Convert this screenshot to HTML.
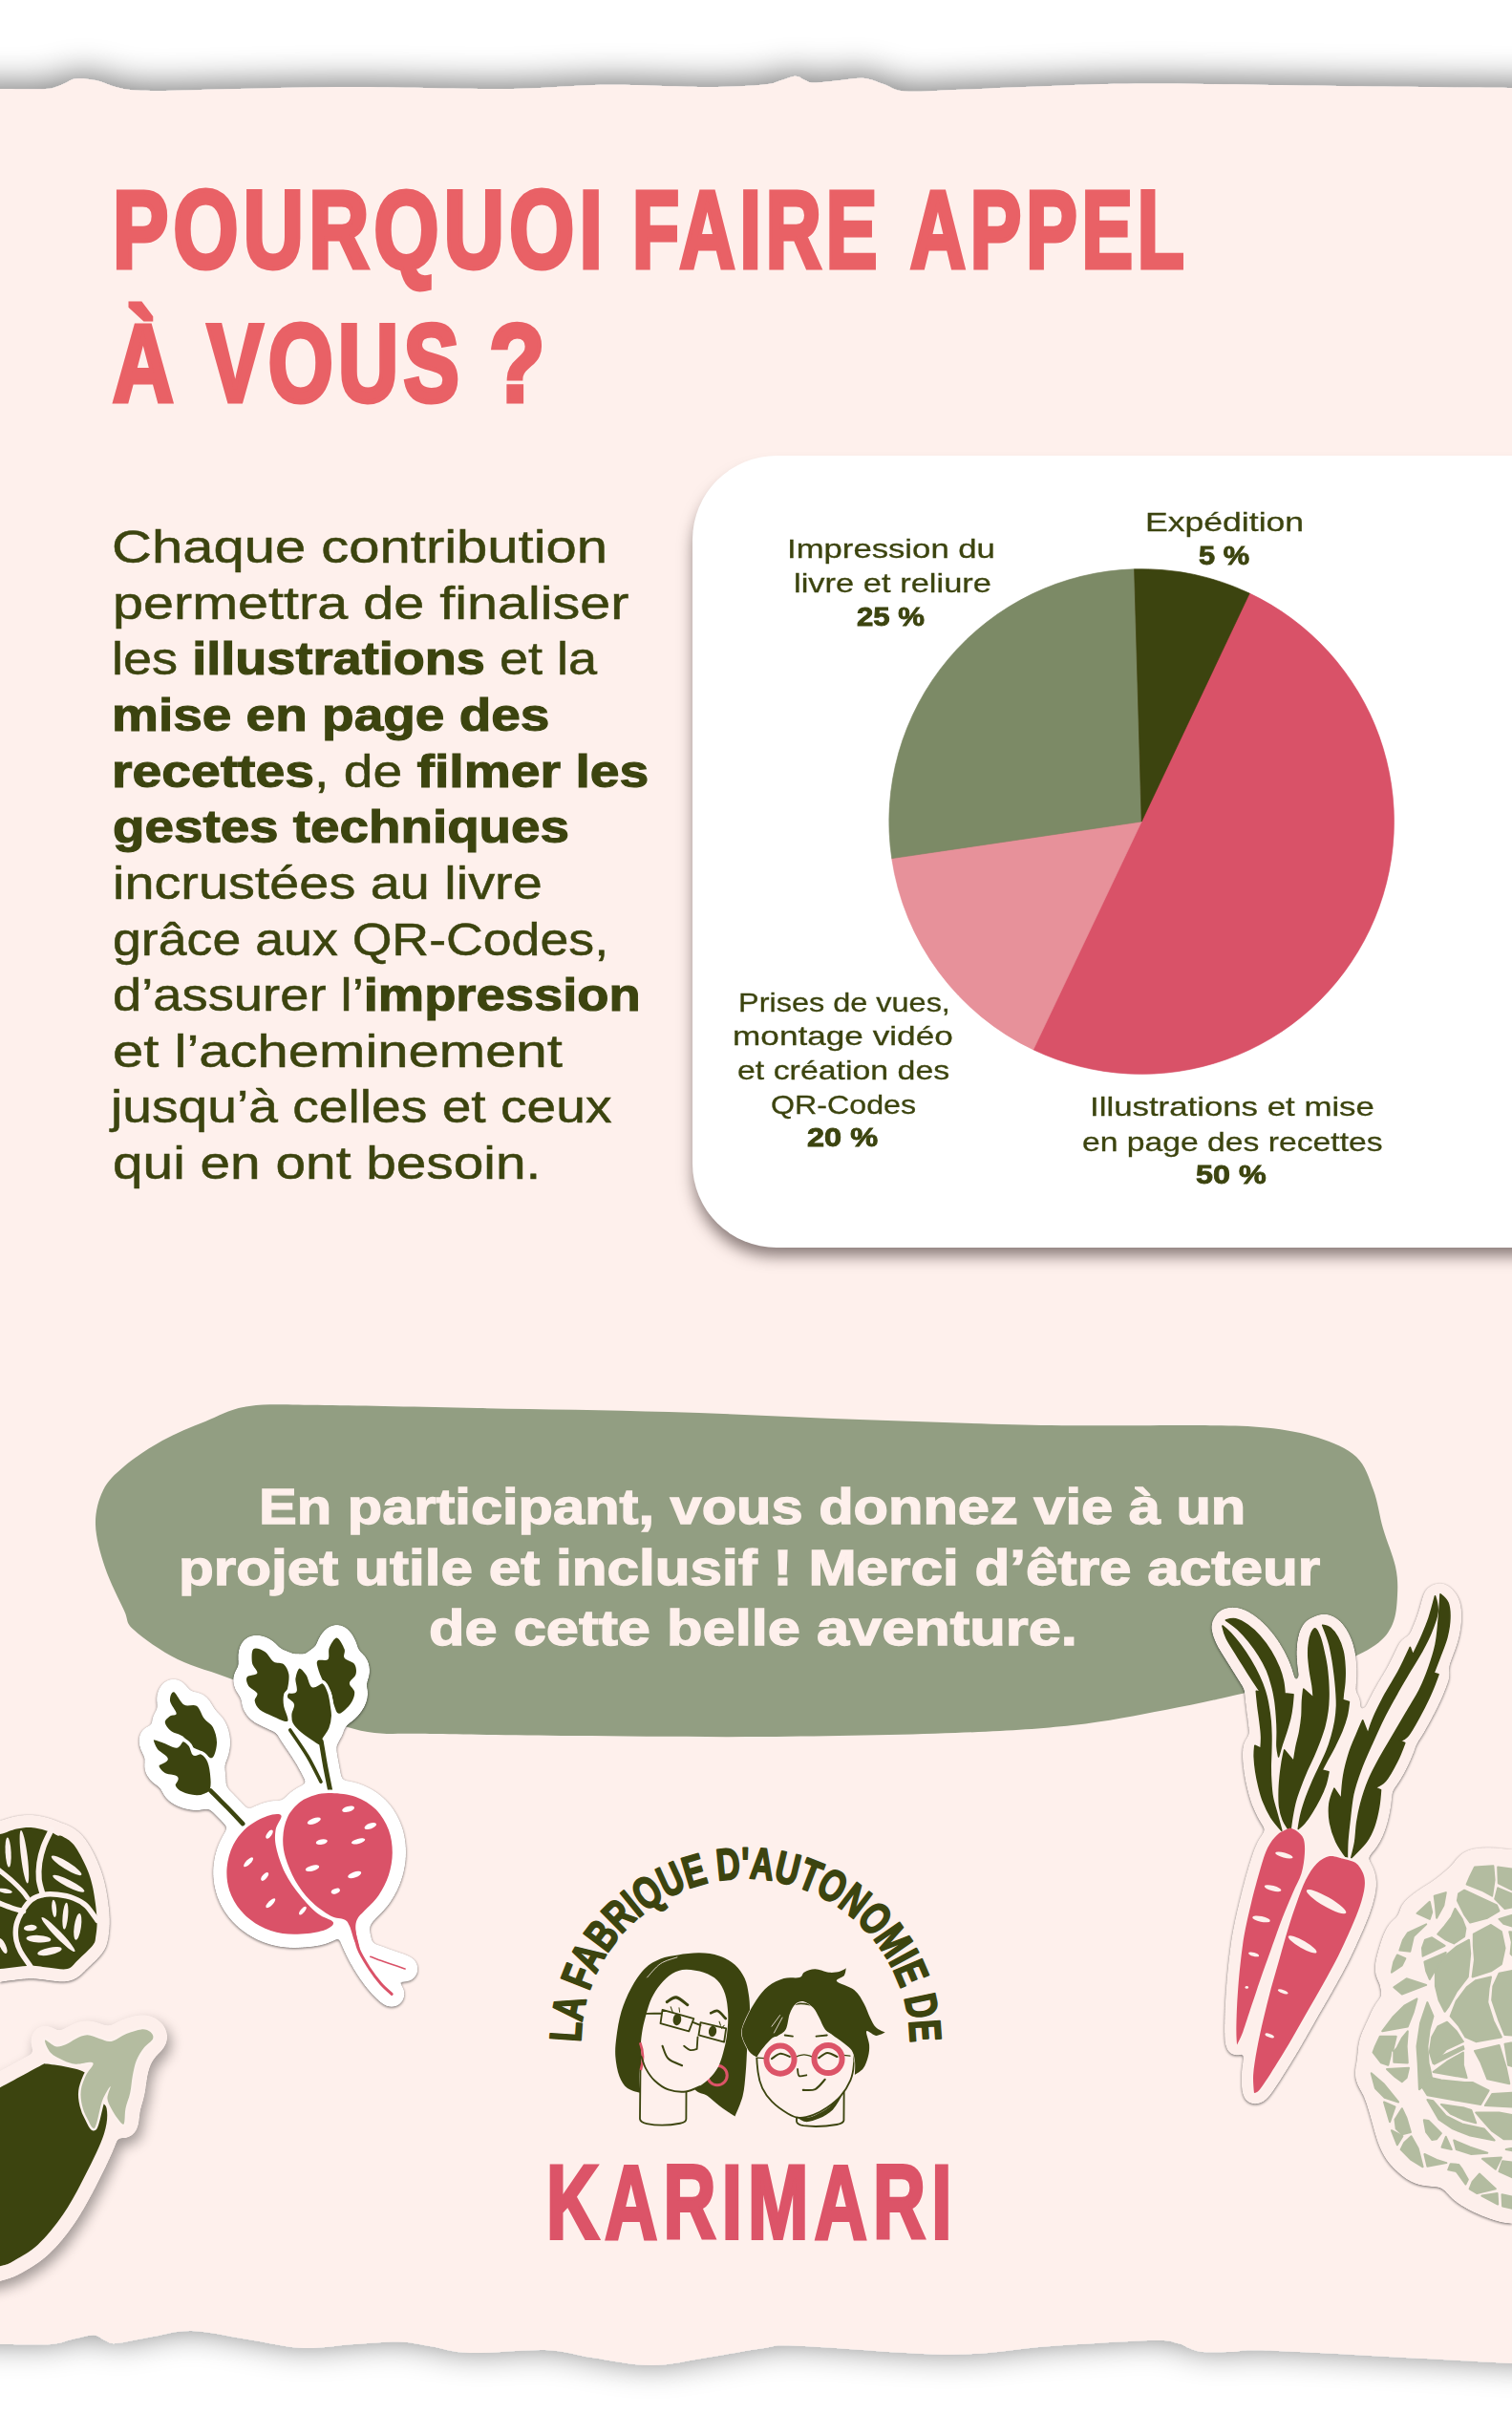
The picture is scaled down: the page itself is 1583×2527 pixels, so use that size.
<!DOCTYPE html>
<html lang="fr"><head><meta charset="utf-8"><title>Pourquoi faire appel à vous ?</title>
<style>
html,body{margin:0;padding:0;background:#fff;}
body{width:1583px;height:2527px;position:relative;overflow:hidden;font-family:'Liberation Sans', sans-serif;}
.layer{position:absolute;left:0;top:0;width:1583px;height:2527px;overflow:hidden;}
.t{position:absolute;margin:0;white-space:nowrap;transform-origin:0 0;line-height:1;}
.t b{font-weight:bold;-webkit-text-stroke:1.1px currentColor;}
.card{position:absolute;left:725px;top:477px;width:1100px;height:829px;background:#fff;border-radius:88px;box-shadow:-2px 12px 16px -3px rgba(45,30,30,.55);}
svg{position:absolute;left:0;top:0;overflow:visible;}
</style></head><body>
<div class="layer">
<svg width="1583" height="2527" viewBox="0 0 1583 2527">
<defs>
<filter id="psh" filterUnits="userSpaceOnUse" x="-60" y="0" width="1703" height="2527"><feGaussianBlur in="SourceAlpha" stdDeviation="18"/><feOffset dx="0" dy="-4"/><feComponentTransfer><feFuncA type="linear" slope=".55"/></feComponentTransfer><feMerge><feMergeNode/><feMergeNode in="SourceGraphic"/></feMerge></filter>

<filter id="stkW" filterUnits="userSpaceOnUse" x="0" y="1600" width="1583" height="927" color-interpolation-filters="sRGB"><feGaussianBlur in="SourceAlpha" stdDeviation="5"/><feComponentTransfer result="t"><feFuncA type="linear" slope="40" intercept="-3"/></feComponentTransfer><feFlood flood-color="#fff"/><feComposite in2="t" operator="in" result="w"/><feGaussianBlur in="t" stdDeviation="1.5"/><feOffset dx="0" dy="1"/><feComponentTransfer result="s"><feFuncA type="linear" slope=".55"/></feComponentTransfer><feMerge><feMergeNode in="s"/><feMergeNode in="w"/></feMerge></filter>
<filter id="stkP" filterUnits="userSpaceOnUse" x="0" y="1600" width="1583" height="927" color-interpolation-filters="sRGB"><feGaussianBlur in="SourceAlpha" stdDeviation="5"/><feComponentTransfer result="t"><feFuncA type="linear" slope="40" intercept="-3"/></feComponentTransfer><feFlood flood-color="#FDEFEB"/><feComposite in2="t" operator="in" result="w"/><feGaussianBlur in="t" stdDeviation="1.5"/><feOffset dx="0" dy="1"/><feComponentTransfer result="s"><feFuncA type="linear" slope=".55"/></feComponentTransfer><feMerge><feMergeNode in="s"/><feMergeNode in="w"/></feMerge></filter>
<filter id="stkS" filterUnits="userSpaceOnUse" x="-100" y="1600" width="1783" height="1027" color-interpolation-filters="sRGB"><feGaussianBlur in="SourceAlpha" stdDeviation="5"/><feComponentTransfer result="t"><feFuncA type="linear" slope="40" intercept="-3"/></feComponentTransfer><feFlood flood-color="#FDEFEB"/><feComposite in2="t" operator="in" result="w"/><feGaussianBlur in="t" stdDeviation="7"/><feOffset dx="4" dy="7"/><feComponentTransfer result="s"><feFuncA type="linear" slope=".36"/></feComponentTransfer><feMerge><feMergeNode in="s"/><feMergeNode in="w"/></feMerge></filter>

</defs>
<path d="M-40.0 93.0 C-33.3 93.0 -14.7 93.0 0.0 93.0 C14.7 93.0 37.0 93.8 48.0 93.0 C59.0 92.2 60.8 89.8 66.0 88.0 C71.2 86.2 73.3 83.2 79.0 82.5 C84.7 81.8 89.3 82.0 100.0 84.0 C110.7 86.0 118.0 93.0 143.0 94.5 C168.0 96.0 212.2 93.6 250.0 93.0 C287.8 92.4 323.5 91.0 370.0 91.0 C416.5 91.0 484.8 93.4 529.0 93.0 C573.2 92.6 599.7 89.0 635.0 88.7 C670.3 88.4 713.5 91.0 741.0 91.0 C768.5 91.0 787.2 89.7 800.0 88.5 C812.8 87.3 812.5 85.5 818.0 84.0 C823.5 82.5 828.8 79.7 833.0 79.7 C837.2 79.7 839.8 82.9 843.0 84.0 C846.2 85.1 845.8 86.5 852.0 86.5 C858.2 86.5 871.2 84.8 880.0 84.0 C888.8 83.2 897.5 81.3 905.0 82.0 C912.5 82.7 918.0 85.8 925.0 88.0 C932.0 90.2 934.5 94.5 947.0 95.5 C959.5 96.5 974.5 94.9 1000.0 94.0 C1025.5 93.1 1065.7 91.1 1100.0 90.0 C1134.3 88.9 1156.0 87.6 1206.0 87.6 C1256.0 87.6 1337.2 89.3 1400.0 90.0 C1462.8 90.7 1545.8 91.7 1583.0 92.0 C1620.2 92.3 1616.3 92.0 1623.0 92.0 L1623.0 2476.0 C1616.3 2475.7 1630.5 2476.5 1583.0 2474.0 C1535.5 2471.5 1386.8 2463.0 1338.0 2461.0 C1289.2 2459.0 1303.2 2461.8 1290.0 2462.0 C1276.8 2462.2 1266.5 2462.7 1259.0 2462.0 C1251.5 2461.3 1249.3 2459.5 1245.0 2458.0 C1240.7 2456.5 1239.5 2454.3 1233.0 2453.0 C1226.5 2451.7 1228.2 2449.5 1206.0 2450.0 C1183.8 2450.5 1135.2 2453.6 1100.0 2456.0 C1064.8 2458.4 1039.0 2464.8 995.0 2464.7 C951.0 2464.6 868.5 2456.8 836.0 2455.7 C803.5 2454.6 816.0 2455.9 800.0 2458.0 C784.0 2460.1 759.7 2465.0 740.0 2468.0 C720.3 2471.0 702.0 2476.0 682.0 2476.0 C662.0 2476.0 638.5 2470.7 620.0 2468.0 C601.5 2465.3 592.3 2460.8 571.0 2460.0 C549.7 2459.2 512.2 2463.7 492.0 2463.0 C471.8 2462.3 462.3 2457.9 450.0 2456.0 C437.7 2454.1 431.3 2451.8 418.0 2451.5 C404.7 2451.2 386.8 2452.9 370.0 2454.0 C353.2 2455.1 335.3 2458.8 317.0 2458.0 C298.7 2457.2 279.3 2452.0 260.0 2449.0 C240.7 2446.0 217.7 2440.5 201.0 2440.0 C184.3 2439.5 173.2 2443.8 160.0 2446.0 C146.8 2448.2 130.3 2452.3 122.0 2453.0 C113.7 2453.7 114.0 2451.4 110.0 2450.0 C106.0 2448.6 103.8 2444.7 98.0 2444.5 C92.2 2444.3 82.5 2447.4 75.0 2449.0 C67.5 2450.6 65.5 2453.2 53.0 2454.0 C40.5 2454.8 15.5 2454.0 0.0 2454.0 C-15.5 2454.0 -33.3 2454.0 -40.0 2454.0 Z" fill="#FEF0EC" filter="url(#psh)"/>
</svg>
<div class="card"></div>
<svg width="1583" height="2527" viewBox="0 0 1583 2527">
<circle cx="1195.2" cy="860.0" r="263.8" fill="#D95268"/>
<path d="M1195.2 860.0 L1308.2 621.1 A264.3 264.3 0 1 1 1081.8 1098.8 Z" fill="#D95268" stroke="#D95268" stroke-width="0.7" stroke-linejoin="round"/>
<path d="M1195.2 860.0 L1081.8 1098.8 A264.3 264.3 0 0 1 933.7 898.6 Z" fill="#E7919A" stroke="#E7919A" stroke-width="0.7" stroke-linejoin="round"/>
<path d="M1195.2 860.0 L933.7 898.6 A264.3 264.3 0 0 1 1187.6 595.8 Z" fill="#7C8A66" stroke="#7C8A66" stroke-width="0.7" stroke-linejoin="round"/>
<path d="M1195.2 860.0 L1187.6 595.8 A264.3 264.3 0 0 1 1308.2 621.1 Z" fill="#3C440F" stroke="#3C440F" stroke-width="0.7" stroke-linejoin="round"/>

<path d="M100.0 1596.0 C99.7 1582.5 103.0 1570.2 108.0 1560.0 C113.0 1549.8 119.7 1543.7 130.0 1535.0 C140.3 1526.3 155.8 1515.8 170.0 1508.0 C184.2 1500.2 199.8 1494.0 215.0 1488.0 C230.2 1482.0 240.2 1474.8 261.0 1472.0 C281.8 1469.2 300.2 1470.7 340.0 1471.0 C379.8 1471.3 440.0 1472.8 500.0 1474.0 C560.0 1475.2 633.3 1476.0 700.0 1478.0 C766.7 1480.0 833.3 1483.7 900.0 1486.0 C966.7 1488.3 1041.7 1491.0 1100.0 1492.0 C1158.3 1493.0 1212.5 1491.6 1250.0 1492.0 C1287.5 1492.4 1303.3 1492.3 1325.0 1494.5 C1346.7 1496.7 1364.2 1499.9 1380.0 1505.0 C1395.8 1510.1 1410.3 1515.8 1420.0 1525.0 C1429.7 1534.2 1433.3 1547.5 1438.0 1560.0 C1442.7 1572.5 1444.2 1586.7 1448.0 1600.0 C1451.8 1613.3 1458.5 1628.3 1461.0 1640.0 C1463.5 1651.7 1463.5 1660.0 1463.0 1670.0 C1462.5 1680.0 1461.8 1691.3 1458.0 1700.0 C1454.2 1708.7 1449.7 1715.0 1440.0 1722.0 C1430.3 1729.0 1415.0 1735.7 1400.0 1742.0 C1385.0 1748.3 1366.7 1754.8 1350.0 1760.0 C1333.3 1765.2 1321.7 1768.0 1300.0 1773.0 C1278.3 1778.0 1249.5 1784.5 1220.0 1790.0 C1190.5 1795.5 1159.7 1802.0 1123.0 1806.0 C1086.3 1810.0 1053.8 1812.0 1000.0 1814.0 C946.2 1816.0 866.7 1817.5 800.0 1818.0 C733.3 1818.5 658.3 1817.5 600.0 1817.0 C541.7 1816.5 485.8 1815.7 450.0 1815.0 C414.2 1814.3 405.0 1816.3 385.0 1813.0 C365.0 1809.7 353.2 1804.0 330.0 1795.0 C306.8 1786.0 270.0 1768.7 246.0 1759.0 C222.0 1749.3 203.7 1745.8 186.0 1737.0 C168.3 1728.2 149.3 1714.5 140.0 1706.0 C130.7 1697.5 135.0 1696.8 130.0 1686.0 C125.0 1675.2 115.0 1656.0 110.0 1641.0 C105.0 1626.0 100.3 1609.5 100.0 1596.0Z" fill="#929E82"/>
<g filter="url(#stkW)"><g fill="#fff" stroke="#fff" stroke-width="16" stroke-linejoin="round" stroke-linecap="round"><path d="M347.4 1877.1 C354.4 1877.4 364.8 1878.2 372.5 1881.1 C380.2 1883.9 387.9 1888.6 393.7 1894.3 C399.4 1900.0 404.0 1908.0 406.9 1915.4 C409.7 1922.9 410.8 1931.3 410.8 1939.3 C410.8 1947.2 409.3 1955.6 406.9 1963.1 C404.5 1970.6 400.5 1978.1 396.3 1984.2 C392.1 1990.4 385.5 1995.9 381.7 2000.1 C378.0 2004.3 375.4 2005.8 373.8 2009.4 C372.3 2012.9 372.0 2016.2 372.5 2021.3 C372.9 2026.3 376.7 2038.0 376.5 2039.8 C376.2 2041.6 372.9 2035.8 371.2 2031.9 C369.4 2027.9 367.6 2019.7 365.9 2016.0 C364.1 2012.2 363.9 2011.1 360.6 2009.4 C357.3 2007.6 352.0 2008.7 346.0 2005.4 C340.1 2002.1 331.0 1995.7 324.9 1989.5 C318.7 1983.4 313.3 1975.9 309.0 1968.4 C304.7 1960.9 301.1 1952.0 298.9 1944.6 C296.8 1937.1 295.9 1930.4 296.3 1923.4 C296.6 1916.3 298.1 1908.4 301.1 1902.2 C304.1 1896.0 309.4 1890.2 314.3 1886.3 C319.1 1882.5 324.6 1880.5 330.2 1878.9 C335.7 1877.4 340.3 1876.7 347.4 1877.1Z"/><path d="M294.4 1900.4 C293.0 1897.9 285.8 1898.8 279.9 1900.9 C273.9 1903.0 264.7 1907.7 258.7 1912.8 C252.8 1917.9 247.7 1924.3 244.2 1931.3 C240.7 1938.4 238.2 1947.2 237.6 1955.1 C236.9 1963.1 237.8 1971.4 240.2 1978.9 C242.6 1986.4 246.8 1993.9 252.1 2000.1 C257.4 2006.3 264.7 2012.0 272.0 2016.0 C279.2 2019.9 287.4 2022.6 295.8 2023.9 C304.1 2025.2 314.5 2024.7 322.2 2023.9 C329.9 2023.2 337.7 2021.4 342.1 2019.4 C346.5 2017.4 350.2 2014.7 348.7 2012.0 C347.1 2009.3 338.5 2007.9 332.8 2003.3 C327.1 1998.7 320.0 1991.4 314.3 1984.2 C308.6 1977.1 302.6 1968.8 298.4 1960.4 C294.2 1952.0 290.8 1941.5 289.2 1934.0 C287.5 1926.5 287.7 1921.0 288.6 1915.4 C289.5 1909.9 295.9 1902.8 294.4 1900.4Z"/><path d="M182.0 1771.3 C184.4 1771.9 188.6 1782.1 192.6 1784.5 C196.6 1786.9 202.3 1783.4 205.8 1785.8 C209.3 1788.2 210.9 1795.3 213.8 1799.0 C216.6 1802.8 220.8 1804.1 223.0 1808.3 C225.2 1812.5 227.1 1818.9 227.0 1824.2 C226.9 1829.5 224.9 1838.5 222.2 1840.1 C219.6 1841.6 214.7 1835.4 211.1 1833.4 C207.5 1831.5 203.8 1830.8 200.5 1828.1 C197.2 1825.5 194.8 1820.2 191.3 1817.6 C187.7 1814.9 182.5 1814.7 179.4 1812.3 C176.3 1809.9 173.0 1805.7 172.8 1803.0 C172.5 1800.4 176.1 1797.9 178.0 1796.4 C180.0 1794.9 184.7 1796.4 184.7 1793.8 C184.7 1791.1 178.5 1784.3 178.0 1780.5 C177.6 1776.8 179.6 1770.6 182.0 1771.3Z"/><path d="M159.5 1820.2 C160.8 1818.7 167.2 1821.5 171.4 1822.9 C175.6 1824.2 181.3 1828.4 184.7 1828.1 C188.0 1827.9 188.8 1821.8 191.3 1821.5 C193.7 1821.3 197.2 1824.4 199.2 1826.8 C201.2 1829.3 201.2 1834.8 203.2 1836.1 C205.2 1837.4 208.5 1833.4 211.1 1834.8 C213.8 1836.1 217.2 1839.4 219.0 1844.0 C220.9 1848.7 221.9 1857.5 222.2 1862.5 C222.6 1867.6 222.1 1871.8 221.2 1874.4 C220.2 1877.1 219.0 1877.3 216.4 1878.4 C213.8 1879.5 210.2 1881.3 205.8 1881.1 C201.4 1880.8 193.9 1879.1 189.9 1877.1 C186.0 1875.1 182.9 1871.8 182.0 1869.2 C181.1 1866.5 186.4 1863.2 184.7 1861.2 C182.9 1859.2 174.7 1859.5 171.4 1857.2 C168.1 1855.0 164.4 1850.6 164.8 1848.0 C165.3 1845.3 174.3 1844.0 174.1 1841.4 C173.9 1838.7 165.9 1835.6 163.5 1832.1 C161.1 1828.6 158.2 1821.8 159.5 1820.2Z"/><path d="M265.3 1726.3 C267.5 1724.3 273.7 1726.7 277.2 1728.9 C280.8 1731.1 283.2 1737.3 286.5 1739.5 C289.8 1741.7 294.4 1740.0 297.1 1742.2 C299.7 1744.4 301.7 1748.6 302.4 1752.8 C303.0 1756.9 301.9 1763.8 301.1 1767.3 C300.2 1770.8 297.8 1770.8 297.1 1773.9 C296.4 1777.0 296.4 1781.2 297.1 1785.8 C297.8 1790.4 303.0 1799.9 301.1 1801.7 C299.1 1803.5 290.0 1798.4 285.2 1796.4 C280.3 1794.4 275.0 1792.4 272.0 1789.8 C268.9 1787.1 267.1 1783.4 266.7 1780.5 C266.2 1777.7 270.4 1775.2 269.3 1772.6 C268.2 1769.9 261.8 1767.5 260.1 1764.7 C258.3 1761.8 257.2 1757.6 258.7 1755.4 C260.3 1753.2 268.4 1753.9 269.3 1751.4 C270.2 1749.0 264.7 1745.0 264.0 1740.8 C263.4 1736.7 263.1 1728.3 265.3 1726.3Z"/><path d="M352.6 1714.4 C355.3 1714.6 359.3 1722.8 360.6 1726.3 C361.9 1729.8 358.8 1732.9 360.6 1735.6 C362.3 1738.2 369.2 1739.3 371.2 1742.2 C373.1 1745.0 373.4 1749.4 372.5 1752.8 C371.6 1756.1 366.1 1758.9 365.9 1762.0 C365.7 1765.1 370.9 1767.7 371.2 1771.3 C371.4 1774.8 369.8 1779.4 367.2 1783.2 C364.6 1786.9 358.2 1793.3 355.3 1793.8 C352.4 1794.2 351.5 1789.8 350.0 1785.8 C348.5 1781.9 348.0 1774.4 346.0 1769.9 C344.0 1765.5 340.3 1763.3 338.1 1759.4 C335.9 1755.4 333.7 1749.7 332.8 1746.1 C331.9 1742.6 331.0 1739.7 332.8 1738.2 C334.6 1736.7 341.4 1739.1 343.4 1736.9 C345.4 1734.7 343.2 1728.7 344.7 1725.0 C346.3 1721.2 350.0 1714.2 352.6 1714.4Z"/><path d="M313.0 1744.8 C315.4 1744.2 319.8 1749.4 322.2 1752.8 C324.6 1756.1 324.9 1763.3 327.5 1764.7 C330.2 1766.0 335.2 1759.6 338.1 1760.7 C341.0 1761.8 343.2 1767.3 344.7 1771.3 C346.3 1775.2 346.7 1780.3 347.4 1784.5 C348.0 1788.7 348.9 1792.2 348.7 1796.4 C348.5 1800.6 347.6 1805.7 346.0 1809.6 C344.5 1813.6 341.2 1817.1 339.4 1820.2 C337.7 1823.3 337.4 1827.5 335.4 1828.1 C333.5 1828.8 331.0 1826.4 327.5 1824.2 C324.0 1822.0 318.0 1818.2 314.3 1814.9 C310.5 1811.6 306.8 1807.9 305.0 1804.3 C303.3 1800.8 303.5 1797.1 303.7 1793.8 C303.9 1790.4 307.0 1787.1 306.3 1784.5 C305.7 1781.9 300.6 1780.1 299.7 1777.9 C298.9 1775.7 299.5 1772.6 301.1 1771.3 C302.6 1769.9 307.9 1772.4 309.0 1769.9 C310.1 1767.5 307.0 1760.9 307.7 1756.7 C308.3 1752.5 310.5 1745.5 313.0 1744.8Z"/><path d="M220.4 1874.4 C223.2 1877.3 231.9 1885.9 237.6 1891.6 C243.2 1897.4 251.5 1906.2 254.2 1909.1" fill="none"/><path d="M336.2 1822.9 C337.0 1827.3 339.1 1840.5 340.7 1849.3 C342.4 1858.1 345.1 1871.4 346.0 1875.8" fill="none"/><path d="M303.7 1811.0 C306.8 1815.6 316.8 1829.7 322.2 1838.7 C327.6 1847.8 333.7 1860.8 336.0 1865.2" fill="none"/><path d="M369.8 2016.0 C370.7 2019.9 372.3 2032.3 375.1 2039.8 C378.0 2047.3 383.1 2054.8 387.0 2061.0 C391.0 2067.1 395.1 2072.4 398.9 2076.8 C402.8 2081.2 408.2 2085.6 410.1 2087.4" fill="none"/><path d="M387.8 2048.3 C390.6 2049.3 398.2 2052.2 404.2 2054.3 C410.3 2056.5 420.8 2059.9 424.1 2061.0" fill="none"/></g></g>
<path d="M182.0 1771.3 C184.4 1771.9 188.6 1782.1 192.6 1784.5 C196.6 1786.9 202.3 1783.4 205.8 1785.8 C209.3 1788.2 210.9 1795.3 213.8 1799.0 C216.6 1802.8 220.8 1804.1 223.0 1808.3 C225.2 1812.5 227.1 1818.9 227.0 1824.2 C226.9 1829.5 224.9 1838.5 222.2 1840.1 C219.6 1841.6 214.7 1835.4 211.1 1833.4 C207.5 1831.5 203.8 1830.8 200.5 1828.1 C197.2 1825.5 194.8 1820.2 191.3 1817.6 C187.7 1814.9 182.5 1814.7 179.4 1812.3 C176.3 1809.9 173.0 1805.7 172.8 1803.0 C172.5 1800.4 176.1 1797.9 178.0 1796.4 C180.0 1794.9 184.7 1796.4 184.7 1793.8 C184.7 1791.1 178.5 1784.3 178.0 1780.5 C177.6 1776.8 179.6 1770.6 182.0 1771.3Z" fill="#3C440F" />
<path d="M159.5 1820.2 C160.8 1818.7 167.2 1821.5 171.4 1822.9 C175.6 1824.2 181.3 1828.4 184.7 1828.1 C188.0 1827.9 188.8 1821.8 191.3 1821.5 C193.7 1821.3 197.2 1824.4 199.2 1826.8 C201.2 1829.3 201.2 1834.8 203.2 1836.1 C205.2 1837.4 208.5 1833.4 211.1 1834.8 C213.8 1836.1 217.2 1839.4 219.0 1844.0 C220.9 1848.7 221.9 1857.5 222.2 1862.5 C222.6 1867.6 222.1 1871.8 221.2 1874.4 C220.2 1877.1 219.0 1877.3 216.4 1878.4 C213.8 1879.5 210.2 1881.3 205.8 1881.1 C201.4 1880.8 193.9 1879.1 189.9 1877.1 C186.0 1875.1 182.9 1871.8 182.0 1869.2 C181.1 1866.5 186.4 1863.2 184.7 1861.2 C182.9 1859.2 174.7 1859.5 171.4 1857.2 C168.1 1855.0 164.4 1850.6 164.8 1848.0 C165.3 1845.3 174.3 1844.0 174.1 1841.4 C173.9 1838.7 165.9 1835.6 163.5 1832.1 C161.1 1828.6 158.2 1821.8 159.5 1820.2Z" fill="#3C440F" stroke="#fff" stroke-width="3.5"/>
<path d="M220.4 1874.4 C223.2 1877.3 231.9 1885.9 237.6 1891.6 C243.2 1897.4 251.5 1906.2 254.2 1909.1" fill="none" stroke="#3C440F" stroke-width="4.6" stroke-linecap="round" />
<path d="M265.3 1726.3 C267.5 1724.3 273.7 1726.7 277.2 1728.9 C280.8 1731.1 283.2 1737.3 286.5 1739.5 C289.8 1741.7 294.4 1740.0 297.1 1742.2 C299.7 1744.4 301.7 1748.6 302.4 1752.8 C303.0 1756.9 301.9 1763.8 301.1 1767.3 C300.2 1770.8 297.8 1770.8 297.1 1773.9 C296.4 1777.0 296.4 1781.2 297.1 1785.8 C297.8 1790.4 303.0 1799.9 301.1 1801.7 C299.1 1803.5 290.0 1798.4 285.2 1796.4 C280.3 1794.4 275.0 1792.4 272.0 1789.8 C268.9 1787.1 267.1 1783.4 266.7 1780.5 C266.2 1777.7 270.4 1775.2 269.3 1772.6 C268.2 1769.9 261.8 1767.5 260.1 1764.7 C258.3 1761.8 257.2 1757.6 258.7 1755.4 C260.3 1753.2 268.4 1753.9 269.3 1751.4 C270.2 1749.0 264.7 1745.0 264.0 1740.8 C263.4 1736.7 263.1 1728.3 265.3 1726.3Z" fill="#3C440F" />
<path d="M352.6 1714.4 C355.3 1714.6 359.3 1722.8 360.6 1726.3 C361.9 1729.8 358.8 1732.9 360.6 1735.6 C362.3 1738.2 369.2 1739.3 371.2 1742.2 C373.1 1745.0 373.4 1749.4 372.5 1752.8 C371.6 1756.1 366.1 1758.9 365.9 1762.0 C365.7 1765.1 370.9 1767.7 371.2 1771.3 C371.4 1774.8 369.8 1779.4 367.2 1783.2 C364.6 1786.9 358.2 1793.3 355.3 1793.8 C352.4 1794.2 351.5 1789.8 350.0 1785.8 C348.5 1781.9 348.0 1774.4 346.0 1769.9 C344.0 1765.5 340.3 1763.3 338.1 1759.4 C335.9 1755.4 333.7 1749.7 332.8 1746.1 C331.9 1742.6 331.0 1739.7 332.8 1738.2 C334.6 1736.7 341.4 1739.1 343.4 1736.9 C345.4 1734.7 343.2 1728.7 344.7 1725.0 C346.3 1721.2 350.0 1714.2 352.6 1714.4Z" fill="#3C440F" />
<path d="M303.7 1811.0 C306.8 1815.6 316.8 1829.7 322.2 1838.7 C327.6 1847.8 333.7 1860.8 336.0 1865.2" fill="none" stroke="#3C440F" stroke-width="3.6" stroke-linecap="round" />
<path d="M313.0 1744.8 C315.4 1744.2 319.8 1749.4 322.2 1752.8 C324.6 1756.1 324.9 1763.3 327.5 1764.7 C330.2 1766.0 335.2 1759.6 338.1 1760.7 C341.0 1761.8 343.2 1767.3 344.7 1771.3 C346.3 1775.2 346.7 1780.3 347.4 1784.5 C348.0 1788.7 348.9 1792.2 348.7 1796.4 C348.5 1800.6 347.6 1805.7 346.0 1809.6 C344.5 1813.6 341.2 1817.1 339.4 1820.2 C337.7 1823.3 337.4 1827.5 335.4 1828.1 C333.5 1828.8 331.0 1826.4 327.5 1824.2 C324.0 1822.0 318.0 1818.2 314.3 1814.9 C310.5 1811.6 306.8 1807.9 305.0 1804.3 C303.3 1800.8 303.5 1797.1 303.7 1793.8 C303.9 1790.4 307.0 1787.1 306.3 1784.5 C305.7 1781.9 300.6 1780.1 299.7 1777.9 C298.9 1775.7 299.5 1772.6 301.1 1771.3 C302.6 1769.9 307.9 1772.4 309.0 1769.9 C310.1 1767.5 307.0 1760.9 307.7 1756.7 C308.3 1752.5 310.5 1745.5 313.0 1744.8Z" fill="#3C440F" stroke="#fff" stroke-width="3.5"/>
<path d="M336.2 1822.9 C337.0 1827.3 339.1 1840.5 340.7 1849.3 C342.4 1858.1 345.1 1871.4 346.0 1875.8" fill="none" stroke="#3C440F" stroke-width="5.0" stroke-linecap="round" />
<path d="M294.4 1900.4 C293.0 1897.9 285.8 1898.8 279.9 1900.9 C273.9 1903.0 264.7 1907.7 258.7 1912.8 C252.8 1917.9 247.7 1924.3 244.2 1931.3 C240.7 1938.4 238.2 1947.2 237.6 1955.1 C236.9 1963.1 237.8 1971.4 240.2 1978.9 C242.6 1986.4 246.8 1993.9 252.1 2000.1 C257.4 2006.3 264.7 2012.0 272.0 2016.0 C279.2 2019.9 287.4 2022.6 295.8 2023.9 C304.1 2025.2 314.5 2024.7 322.2 2023.9 C329.9 2023.2 337.7 2021.4 342.1 2019.4 C346.5 2017.4 350.2 2014.7 348.7 2012.0 C347.1 2009.3 338.5 2007.9 332.8 2003.3 C327.1 1998.7 320.0 1991.4 314.3 1984.2 C308.6 1977.1 302.6 1968.8 298.4 1960.4 C294.2 1952.0 290.8 1941.5 289.2 1934.0 C287.5 1926.5 287.7 1921.0 288.6 1915.4 C289.5 1909.9 295.9 1902.8 294.4 1900.4Z" fill="#DA5268" />
<path d="M347.4 1877.1 C354.4 1877.4 364.8 1878.2 372.5 1881.1 C380.2 1883.9 387.9 1888.6 393.7 1894.3 C399.4 1900.0 404.0 1908.0 406.9 1915.4 C409.7 1922.9 410.8 1931.3 410.8 1939.3 C410.8 1947.2 409.3 1955.6 406.9 1963.1 C404.5 1970.6 400.5 1978.1 396.3 1984.2 C392.1 1990.4 385.5 1995.9 381.7 2000.1 C378.0 2004.3 375.4 2005.8 373.8 2009.4 C372.3 2012.9 372.0 2016.2 372.5 2021.3 C372.9 2026.3 376.7 2038.0 376.5 2039.8 C376.2 2041.6 372.9 2035.8 371.2 2031.9 C369.4 2027.9 367.6 2019.7 365.9 2016.0 C364.1 2012.2 363.9 2011.1 360.6 2009.4 C357.3 2007.6 352.0 2008.7 346.0 2005.4 C340.1 2002.1 331.0 1995.7 324.9 1989.5 C318.7 1983.4 313.3 1975.9 309.0 1968.4 C304.7 1960.9 301.1 1952.0 298.9 1944.6 C296.8 1937.1 295.9 1930.4 296.3 1923.4 C296.6 1916.3 298.1 1908.4 301.1 1902.2 C304.1 1896.0 309.4 1890.2 314.3 1886.3 C319.1 1882.5 324.6 1880.5 330.2 1878.9 C335.7 1877.4 340.3 1876.7 347.4 1877.1Z" fill="#DA5268" stroke="#fff" stroke-width="7" paint-order="stroke"/>
<path d="M369.8 2016.0 C370.7 2019.9 372.3 2032.3 375.1 2039.8 C378.0 2047.3 383.1 2054.8 387.0 2061.0 C391.0 2067.1 395.1 2072.4 398.9 2076.8 C402.8 2081.2 408.2 2085.6 410.1 2087.4" fill="none" stroke="#DA5268" stroke-width="3.0" stroke-linecap="round" />
<path d="M387.8 2048.3 C390.6 2049.3 398.2 2052.2 404.2 2054.3 C410.3 2056.5 420.8 2059.9 424.1 2061.0" fill="none" stroke="#DA5268" stroke-width="1.6" stroke-linecap="round" />
<ellipse cx="364.6" cy="1893.8" rx="6.6" ry="2.9" transform="rotate(-15 364.6 1893.8)" fill="#fff"/>
<ellipse cx="328.8" cy="1906.2" rx="7.4" ry="2.9" transform="rotate(-20 328.8 1906.2)" fill="#fff"/>
<ellipse cx="387.8" cy="1911.5" rx="6.6" ry="2.9" transform="rotate(-20 387.8 1911.5)" fill="#fff"/>
<ellipse cx="336.8" cy="1928.1" rx="6.1" ry="2.6" transform="rotate(-10 336.8 1928.1)" fill="#fff"/>
<ellipse cx="375.1" cy="1927.4" rx="7.4" ry="2.6" transform="rotate(-15 375.1 1927.4)" fill="#fff"/>
<ellipse cx="327.0" cy="1955.7" rx="7.4" ry="2.9" transform="rotate(-15 327.0 1955.7)" fill="#fff"/>
<ellipse cx="371.2" cy="1962.5" rx="7.4" ry="2.9" transform="rotate(-20 371.2 1962.5)" fill="#fff"/>
<ellipse cx="351.3" cy="1979.7" rx="4.8" ry="2.6" transform="rotate(-20 351.3 1979.7)" fill="#fff"/>
<ellipse cx="282.0" cy="1920.2" rx="5.3" ry="2.4" transform="rotate(-55 282.0 1920.2)" fill="#fff"/>
<ellipse cx="260.1" cy="1949.3" rx="6.6" ry="2.4" transform="rotate(-45 260.1 1949.3)" fill="#fff"/>
<ellipse cx="277.2" cy="1964.4" rx="5.3" ry="2.4" transform="rotate(-50 277.2 1964.4)" fill="#fff"/>
<ellipse cx="283.3" cy="1992.2" rx="6.6" ry="2.4" transform="rotate(-45 283.3 1992.2)" fill="#fff"/>
<ellipse cx="316.9" cy="2000.1" rx="5.3" ry="2.1" transform="rotate(-50 316.9 2000.1)" fill="#fff"/>
<g filter="url(#stkP)"><path d="M-25.8 1924.4 C-20.1 1912.2 -7.2 1921.7 0.0 1920.1 C7.2 1918.4 11.5 1915.7 17.2 1914.5 C22.9 1913.4 28.5 1912.7 34.4 1913.2 C40.3 1913.7 48.2 1916.2 52.5 1917.5 C56.7 1918.9 58.0 1920.6 60.2 1921.4 C62.3 1922.2 62.5 1920.6 65.3 1922.2 C68.2 1923.9 73.2 1925.9 77.4 1931.3 C81.5 1936.6 87.0 1947.0 90.3 1954.5 C93.6 1961.9 95.3 1967.1 97.2 1976.0 C99.0 1984.9 101.0 1999.2 101.5 2007.8 C102.0 2016.4 100.9 2022.8 100.2 2027.6 C99.5 2032.3 100.2 2032.2 97.2 2036.2 C94.1 2040.2 86.1 2047.5 81.7 2051.7 C77.2 2055.8 75.5 2059.7 70.5 2061.1 C65.5 2062.5 58.2 2060.4 51.6 2059.8 C45.0 2059.2 39.6 2057.5 31.0 2057.7 C22.4 2057.9 9.5 2060.4 0.0 2061.1 C-9.5 2061.8 -20.1 2073.3 -25.8 2062.0 C-31.5 2050.6 -34.4 2016.1 -34.4 1993.2 C-34.4 1970.3 -31.5 1936.6 -25.8 1924.4Z" fill="#FDF1ED" stroke="#FDF1ED" stroke-width="14" stroke-linejoin="round"/></g>
<path d="M-25.8 1924.4 C-20.1 1912.2 -7.2 1921.7 0.0 1920.1 C7.2 1918.4 11.5 1915.7 17.2 1914.5 C22.9 1913.4 28.5 1912.7 34.4 1913.2 C40.3 1913.7 48.2 1916.2 52.5 1917.5 C56.7 1918.9 58.0 1920.6 60.2 1921.4 C62.3 1922.2 62.5 1920.6 65.3 1922.2 C68.2 1923.9 73.2 1925.9 77.4 1931.3 C81.5 1936.6 87.0 1947.0 90.3 1954.5 C93.6 1961.9 95.3 1967.1 97.2 1976.0 C99.0 1984.9 101.0 1999.2 101.5 2007.8 C102.0 2016.4 100.9 2022.8 100.2 2027.6 C99.5 2032.3 100.2 2032.2 97.2 2036.2 C94.1 2040.2 86.1 2047.5 81.7 2051.7 C77.2 2055.8 75.5 2059.7 70.5 2061.1 C65.5 2062.5 58.2 2060.4 51.6 2059.8 C45.0 2059.2 39.6 2057.5 31.0 2057.7 C22.4 2057.9 9.5 2060.4 0.0 2061.1 C-9.5 2061.8 -20.1 2073.3 -25.8 2062.0 C-31.5 2050.6 -34.4 2016.1 -34.4 1993.2 C-34.4 1970.3 -31.5 1936.6 -25.8 1924.4Z" fill="#3C440F" />
<path d="M54.0 1914.9 C52.6 1917.9 47.7 1927.1 45.6 1933.0 C43.5 1938.9 42.1 1944.5 41.3 1950.2 C40.5 1955.9 40.3 1961.9 40.8 1967.4 C41.4 1972.9 44.1 1980.6 44.7 1983.3" fill="none" stroke="#FDF1ED" stroke-width="6.0" stroke-linecap="round" />
<path d="M101.9 2010.4 C100.0 2007.8 94.4 1998.8 90.3 1994.9 C86.2 1991.0 82.4 1989.1 77.4 1987.2 C72.4 1985.2 65.6 1983.9 60.2 1983.3 C54.7 1982.7 49.3 1982.6 44.7 1983.6 C40.1 1984.5 36.3 1986.0 32.7 1988.9 C29.1 1991.8 25.8 1996.6 23.2 2000.9 C20.6 2005.2 18.3 2009.9 17.2 2014.7 C16.1 2019.4 16.1 2024.6 16.8 2029.3 C17.5 2034.0 18.9 2038.1 21.5 2043.1 C24.1 2048.0 30.5 2056.3 32.2 2059.0" fill="none" stroke="#FDF1ED" stroke-width="5.5" stroke-linecap="round" />
<path d="M-1.7 1991.9 C0.7 1992.8 8.5 1996.0 12.9 1997.5 C17.3 1999.0 22.6 2000.2 24.5 2000.7" fill="none" stroke="#FDF1ED" stroke-width="5.5" stroke-linecap="round" />
<path d="M-1.7 1957.1 C0.7 1959.1 8.7 1965.4 12.9 1969.1 C17.1 1972.8 20.6 1976.5 23.2 1979.4 C25.9 1982.4 27.9 1985.5 28.8 1986.7" fill="none" stroke="#FDF1ED" stroke-width="5.0" stroke-linecap="round" />
<ellipse cx="8.6" cy="1939.0" rx="3.0" ry="15.6" transform="rotate(-3 8.6 1939.0)" fill="#FDF1ED"/>
<ellipse cx="25.4" cy="1943.7" rx="3.4" ry="27.9" transform="rotate(-7 25.4 1943.7)" fill="#FDF1ED"/>
<ellipse cx="5.2" cy="1979.4" rx="7.7" ry="2.4" transform="rotate(10 5.2 1979.4)" fill="#FDF1ED"/>
<ellipse cx="69.6" cy="1952.8" rx="18.5" ry="3.9" transform="rotate(32 69.6 1952.8)" fill="#FDF1ED"/>
<ellipse cx="71.8" cy="1971.7" rx="18.5" ry="3.7" transform="rotate(27 71.8 1971.7)" fill="#FDF1ED"/>
<ellipse cx="56.7" cy="1997.9" rx="2.4" ry="9.1" transform="rotate(-5 56.7 1997.9)" fill="#FDF1ED"/>
<ellipse cx="68.4" cy="2005.6" rx="2.8" ry="14.0" transform="rotate(5 68.4 2005.6)" fill="#FDF1ED"/>
<ellipse cx="81.3" cy="2016.8" rx="3.6" ry="14.0" transform="rotate(8 81.3 2016.8)" fill="#FDF1ED"/>
<ellipse cx="61.0" cy="2025.0" rx="24.9" ry="3.5" transform="rotate(46 61.0 2025.0)" fill="#FDF1ED"/>
<ellipse cx="31.8" cy="2018.1" rx="6.9" ry="3.2" transform="rotate(-5 31.8 2018.1)" fill="#FDF1ED"/>
<ellipse cx="40.4" cy="2029.7" rx="12.9" ry="3.8" transform="rotate(3 40.4 2029.7)" fill="#FDF1ED"/>
<ellipse cx="52.0" cy="2042.6" rx="12.9" ry="3.8" transform="rotate(-12 52.0 2042.6)" fill="#FDF1ED"/>
<ellipse cx="3.0" cy="2037.0" rx="8.6" ry="3.0" transform="rotate(65 3.0 2037.0)" fill="#FDF1ED"/>
<g filter="url(#stkS)"><g fill="#FDF1ED" stroke="#FDF1ED" stroke-width="18" stroke-linejoin="round"><path d="M-52.9 2214.1 C-52.9 2214.1 -16.5 2194.3 0.0 2185.3 C16.5 2176.3 46.3 2160.2 46.3 2160.2 C46.3 2160.2 79.4 2163.4 88.6 2169.4 C97.9 2175.5 98.0 2190.1 101.9 2196.4 C105.7 2202.7 110.4 2200.8 111.6 2207.0 C112.8 2213.2 112.6 2222.0 109.0 2233.4 C105.4 2244.9 97.1 2261.7 89.9 2275.8 C82.8 2289.9 74.5 2305.7 66.1 2318.1 C57.8 2330.4 48.1 2341.9 39.7 2349.8 C31.3 2357.8 22.5 2362.0 15.9 2365.7 C9.3 2369.5 11.5 2369.2 0.0 2372.3 C-11.5 2375.4 -52.9 2384.2 -52.9 2384.2 C-52.9 2384.2 -52.9 2214.1 -52.9 2214.1Z"/><path d="M47.1 2135.6 C48.0 2134.5 54.6 2141.4 58.2 2142.2 C61.8 2143.0 65.3 2141.6 68.8 2140.3 C72.3 2139.0 75.6 2135.9 79.4 2134.2 C83.1 2132.6 87.1 2130.3 91.3 2130.3 C95.5 2130.3 100.3 2133.1 104.5 2134.2 C108.7 2135.3 111.8 2137.8 116.4 2136.9 C121.0 2136.0 127.0 2131.0 132.3 2128.9 C137.6 2126.9 144.0 2124.8 148.1 2124.4 C152.3 2124.1 155.4 2125.5 157.4 2127.1 C159.4 2128.7 161.2 2131.5 160.1 2134.2 C159.0 2137.0 153.7 2139.7 150.8 2143.5 C147.9 2147.2 144.8 2151.9 142.9 2156.7 C140.9 2161.6 140.0 2166.9 138.9 2172.6 C137.8 2178.3 137.5 2185.4 136.2 2191.1 C135.0 2196.8 132.6 2201.6 131.5 2207.0 C130.4 2212.4 131.0 2221.6 129.6 2223.4 C128.2 2225.1 125.2 2220.3 123.0 2217.6 C120.8 2214.8 118.2 2210.5 116.4 2207.0 C114.6 2203.5 112.6 2200.2 112.4 2196.4 C112.3 2192.6 116.5 2183.5 115.6 2184.0 C114.7 2184.4 109.9 2191.8 107.1 2199.0 C104.4 2206.3 101.9 2224.3 99.2 2227.4 C96.6 2230.4 93.5 2221.4 91.3 2217.6 C89.1 2213.7 87.1 2209.2 86.0 2204.3 C84.9 2199.5 84.0 2193.8 84.7 2188.5 C85.3 2183.2 87.8 2177.4 89.9 2172.6 C92.1 2167.7 99.1 2161.3 97.4 2159.4 C95.6 2157.4 84.6 2161.1 79.4 2160.7 C74.2 2160.2 70.5 2158.7 66.1 2156.7 C61.7 2154.7 56.1 2152.3 52.9 2148.8 C49.7 2145.3 46.2 2136.7 47.1 2135.6Z"/></g></g>
<path d="M-52.9 2214.1 C-52.9 2214.1 -16.5 2194.3 0.0 2185.3 C16.5 2176.3 46.3 2160.2 46.3 2160.2 C46.3 2160.2 79.4 2163.4 88.6 2169.4 C97.9 2175.5 98.0 2190.1 101.9 2196.4 C105.7 2202.7 110.4 2200.8 111.6 2207.0 C112.8 2213.2 112.6 2222.0 109.0 2233.4 C105.4 2244.9 97.1 2261.7 89.9 2275.8 C82.8 2289.9 74.5 2305.7 66.1 2318.1 C57.8 2330.4 48.1 2341.9 39.7 2349.8 C31.3 2357.8 22.5 2362.0 15.9 2365.7 C9.3 2369.5 11.5 2369.2 0.0 2372.3 C-11.5 2375.4 -52.9 2384.2 -52.9 2384.2 C-52.9 2384.2 -52.9 2214.1 -52.9 2214.1Z" fill="#3C440F" />
<path d="M47.1 2135.6 C48.0 2134.5 54.6 2141.4 58.2 2142.2 C61.8 2143.0 65.3 2141.6 68.8 2140.3 C72.3 2139.0 75.6 2135.9 79.4 2134.2 C83.1 2132.6 87.1 2130.3 91.3 2130.3 C95.5 2130.3 100.3 2133.1 104.5 2134.2 C108.7 2135.3 111.8 2137.8 116.4 2136.9 C121.0 2136.0 127.0 2131.0 132.3 2128.9 C137.6 2126.9 144.0 2124.8 148.1 2124.4 C152.3 2124.1 155.4 2125.5 157.4 2127.1 C159.4 2128.7 161.2 2131.5 160.1 2134.2 C159.0 2137.0 153.7 2139.7 150.8 2143.5 C147.9 2147.2 144.8 2151.9 142.9 2156.7 C140.9 2161.6 140.0 2166.9 138.9 2172.6 C137.8 2178.3 137.5 2185.4 136.2 2191.1 C135.0 2196.8 132.6 2201.6 131.5 2207.0 C130.4 2212.4 131.0 2221.6 129.6 2223.4 C128.2 2225.1 125.2 2220.3 123.0 2217.6 C120.8 2214.8 118.2 2210.5 116.4 2207.0 C114.6 2203.5 112.6 2200.2 112.4 2196.4 C112.3 2192.6 116.5 2183.5 115.6 2184.0 C114.7 2184.4 109.9 2191.8 107.1 2199.0 C104.4 2206.3 101.9 2224.3 99.2 2227.4 C96.6 2230.4 93.5 2221.4 91.3 2217.6 C89.1 2213.7 87.1 2209.2 86.0 2204.3 C84.9 2199.5 84.0 2193.8 84.7 2188.5 C85.3 2183.2 87.8 2177.4 89.9 2172.6 C92.1 2167.7 99.1 2161.3 97.4 2159.4 C95.6 2157.4 84.6 2161.1 79.4 2160.7 C74.2 2160.2 70.5 2158.7 66.1 2156.7 C61.7 2154.7 56.1 2152.3 52.9 2148.8 C49.7 2145.3 46.2 2136.7 47.1 2135.6Z" fill="#B4BCA0" stroke="#FDF1ED" stroke-width="5" paint-order="stroke"/>
<g filter="url(#stkP)"><g fill="#FDF1ED" stroke="#FDF1ED" stroke-width="12" stroke-linejoin="round"><path d="M1279.9 1702.0 C1279.9 1702.0 1281.8 1710.1 1284.1 1714.9 C1286.4 1719.7 1290.3 1725.3 1293.7 1730.8 C1297.0 1736.3 1300.9 1742.4 1304.2 1747.7 C1307.6 1753.0 1311.2 1758.7 1313.8 1762.5 C1316.3 1766.4 1319.6 1771.0 1319.6 1771.0 C1319.6 1771.0 1315.3 1770.2 1315.3 1770.2 C1315.3 1770.2 1316.3 1780.6 1316.9 1785.8 C1317.5 1791.1 1318.4 1796.4 1319.0 1801.7 C1319.7 1807.0 1320.5 1812.8 1320.6 1817.6 C1320.8 1822.3 1320.1 1830.3 1320.1 1830.3 C1320.1 1830.3 1313.8 1827.3 1313.8 1827.3 C1313.8 1827.3 1313.1 1834.2 1313.2 1838.7 C1313.4 1843.3 1314.0 1849.3 1314.8 1854.6 C1315.6 1859.9 1316.7 1865.2 1318.0 1870.5 C1319.3 1875.8 1320.6 1881.1 1322.8 1886.3 C1324.9 1891.6 1327.5 1897.2 1330.7 1902.2 C1333.9 1907.2 1341.8 1916.2 1341.8 1916.2 C1341.8 1916.2 1338.1 1902.8 1336.5 1896.9 C1334.9 1891.1 1333.2 1886.3 1332.3 1881.1 C1331.3 1875.8 1331.0 1870.5 1330.7 1865.2 C1330.3 1859.9 1330.2 1854.6 1330.2 1849.3 C1330.2 1844.0 1330.6 1838.7 1330.7 1833.4 C1330.8 1828.1 1331.0 1822.9 1330.9 1817.6 C1330.8 1812.3 1330.6 1807.0 1330.2 1801.7 C1329.7 1796.4 1329.0 1791.1 1328.0 1785.8 C1327.1 1780.5 1326.0 1775.2 1324.3 1769.9 C1322.7 1764.7 1320.5 1759.4 1318.0 1754.1 C1315.5 1748.8 1312.7 1743.5 1309.5 1738.2 C1306.3 1732.9 1302.5 1727.1 1298.9 1722.3 C1295.4 1717.6 1291.5 1713.0 1288.4 1709.6 C1285.2 1706.2 1279.9 1702.0 1279.9 1702.0Z"/><path d="M1283.4 1696.0 C1283.4 1696.0 1289.8 1694.0 1293.7 1694.8 C1297.5 1695.7 1302.1 1698.2 1306.3 1701.2 C1310.6 1704.2 1315.0 1708.2 1319.0 1712.8 C1323.1 1717.4 1327.3 1723.2 1330.7 1728.7 C1334.0 1734.1 1337.0 1740.5 1339.2 1745.6 C1341.3 1750.7 1342.4 1754.8 1343.4 1759.4 C1344.4 1763.9 1345.0 1772.9 1345.0 1772.9 C1345.0 1772.9 1354.0 1773.7 1354.0 1773.7 C1354.0 1773.7 1353.4 1781.7 1352.9 1785.8 C1352.4 1790.0 1351.9 1793.9 1350.8 1798.5 C1349.7 1803.1 1348.0 1808.7 1346.6 1813.3 C1345.1 1817.9 1343.7 1821.8 1342.3 1826.0 C1341.0 1830.3 1338.6 1838.9 1338.6 1838.9 C1338.6 1838.9 1337.3 1832.6 1337.0 1828.1 C1336.8 1823.7 1337.3 1817.6 1337.2 1812.3 C1337.2 1807.0 1336.9 1801.7 1336.5 1796.4 C1336.1 1791.1 1335.7 1785.8 1334.9 1780.5 C1334.1 1775.2 1333.2 1769.9 1331.7 1764.7 C1330.3 1759.4 1328.7 1754.1 1326.5 1748.8 C1324.2 1743.5 1321.2 1738.0 1318.0 1732.9 C1314.8 1727.8 1311.1 1722.7 1307.4 1718.1 C1303.7 1713.5 1299.8 1709.1 1295.8 1705.4 C1291.8 1701.7 1283.4 1696.0 1283.4 1696.0Z"/><path d="M1377.2 1704.9 C1375.7 1704.2 1374.2 1707.1 1373.0 1709.6 C1371.9 1712.2 1370.9 1716.3 1370.4 1720.2 C1369.8 1724.1 1369.7 1728.1 1369.8 1732.9 C1370.0 1737.7 1370.7 1743.5 1371.4 1748.8 C1372.1 1754.1 1373.4 1759.9 1374.1 1764.7 C1374.7 1769.4 1375.3 1777.4 1375.3 1777.4 C1375.3 1777.4 1364.8 1768.0 1364.8 1768.0 C1364.8 1768.0 1363.8 1775.8 1363.5 1780.5 C1363.2 1785.3 1363.4 1791.1 1363.0 1796.4 C1362.5 1801.7 1361.8 1807.0 1360.8 1812.3 C1359.9 1817.6 1358.2 1822.9 1357.1 1828.1 C1356.1 1833.4 1354.5 1843.8 1354.5 1843.8 C1354.5 1843.8 1344.7 1831.9 1344.7 1831.9 C1344.7 1831.9 1343.1 1839.3 1342.3 1844.0 C1341.6 1848.7 1340.7 1854.6 1340.2 1859.9 C1339.7 1865.2 1339.2 1870.5 1339.2 1875.8 C1339.1 1881.1 1339.0 1886.7 1339.7 1891.6 C1340.4 1896.6 1341.5 1901.1 1343.4 1905.4 C1345.2 1909.7 1350.8 1917.6 1350.8 1917.6 C1350.8 1917.6 1352.0 1907.4 1352.9 1902.2 C1353.8 1897.0 1354.7 1891.6 1356.1 1886.3 C1357.5 1881.1 1359.4 1875.8 1361.4 1870.5 C1363.3 1865.2 1365.4 1859.9 1367.7 1854.6 C1370.0 1849.3 1372.8 1844.0 1375.1 1838.7 C1377.4 1833.4 1379.5 1828.1 1381.5 1822.9 C1383.4 1817.6 1385.4 1812.3 1386.8 1807.0 C1388.2 1801.7 1389.2 1796.4 1389.9 1791.1 C1390.7 1785.8 1390.9 1780.5 1391.0 1775.2 C1391.1 1769.9 1390.8 1764.7 1390.5 1759.4 C1390.1 1754.1 1389.7 1748.8 1388.9 1743.5 C1388.1 1738.2 1386.9 1732.6 1385.7 1727.6 C1384.6 1722.7 1383.4 1717.7 1382.0 1713.9 C1380.6 1710.1 1378.7 1705.6 1377.2 1704.9Z"/><path d="M1384.7 1701.2 C1384.7 1701.2 1390.5 1702.2 1393.1 1704.3 C1395.8 1706.5 1398.4 1710.0 1400.5 1713.9 C1402.6 1717.7 1404.6 1722.7 1405.8 1727.6 C1407.1 1732.6 1407.6 1738.2 1407.9 1743.5 C1408.3 1748.8 1408.2 1754.4 1407.9 1759.4 C1407.7 1764.3 1406.7 1769.8 1406.3 1773.1 C1406.0 1776.5 1405.8 1779.5 1405.8 1779.5 C1405.8 1779.5 1412.4 1781.4 1412.4 1781.4 C1412.4 1781.4 1411.3 1791.3 1410.1 1796.4 C1408.8 1801.6 1406.9 1807.0 1404.8 1812.3 C1402.6 1817.6 1399.8 1823.2 1397.4 1828.1 C1394.9 1833.1 1392.2 1837.8 1389.9 1841.9 C1387.7 1846.0 1384.1 1853.0 1384.1 1853.0 C1384.1 1853.0 1391.0 1854.8 1391.0 1854.8 C1391.0 1854.8 1389.4 1863.6 1387.8 1868.4 C1386.2 1873.1 1384.0 1878.2 1381.5 1883.2 C1379.0 1888.1 1375.7 1893.8 1373.0 1898.0 C1370.4 1902.2 1367.9 1905.8 1365.6 1908.6 C1363.3 1911.3 1359.3 1914.4 1359.3 1914.4 C1359.3 1914.4 1361.0 1903.5 1362.4 1898.0 C1363.8 1892.4 1365.8 1886.5 1367.7 1881.1 C1369.7 1875.6 1371.8 1870.5 1374.1 1865.2 C1376.4 1859.9 1379.0 1854.6 1381.5 1849.3 C1384.0 1844.0 1386.8 1838.7 1388.9 1833.4 C1391.0 1828.1 1392.7 1822.9 1394.2 1817.6 C1395.7 1812.3 1397.0 1807.0 1397.9 1801.7 C1398.8 1796.4 1399.3 1791.1 1399.5 1785.8 C1399.6 1780.5 1399.3 1775.2 1398.9 1769.9 C1398.6 1764.7 1398.0 1759.4 1397.4 1754.1 C1396.7 1748.8 1396.1 1743.5 1395.2 1738.2 C1394.4 1732.9 1393.2 1726.9 1392.1 1722.3 C1390.9 1717.7 1389.6 1714.2 1388.4 1710.7 C1387.1 1707.2 1384.7 1701.2 1384.7 1701.2Z"/><path d="M1410.4 1945.6 C1410.4 1945.6 1401.9 1934.1 1398.9 1927.8 C1395.9 1921.5 1393.7 1914.6 1392.5 1907.9 C1391.4 1901.3 1391.2 1894.0 1391.9 1888.1 C1392.7 1882.1 1396.9 1872.2 1396.9 1872.2 C1396.9 1872.2 1404.4 1883.1 1404.4 1883.1 C1404.4 1883.1 1405.4 1866.4 1406.8 1858.3 C1408.2 1850.2 1410.5 1841.8 1412.8 1834.5 C1415.1 1827.2 1418.4 1820.3 1420.7 1814.7 C1423.0 1809.1 1426.7 1800.8 1426.7 1800.8 C1426.7 1800.8 1432.2 1814.7 1432.2 1814.7 C1432.2 1814.7 1435.5 1803.8 1438.6 1796.8 C1441.6 1789.9 1446.2 1781.0 1450.5 1773.0 C1454.8 1765.1 1460.1 1757.3 1464.4 1749.2 C1468.7 1741.1 1476.3 1724.4 1476.3 1724.4 C1476.3 1724.4 1479.2 1732.3 1479.2 1732.3 C1479.2 1732.3 1485.4 1719.9 1488.2 1713.5 C1491.0 1707.0 1493.7 1700.8 1496.1 1693.7 C1498.5 1686.5 1502.5 1670.8 1502.5 1670.8 C1502.5 1670.8 1505.8 1681.2 1505.0 1687.7 C1504.3 1694.1 1500.9 1702.6 1498.1 1709.5 C1495.3 1716.5 1491.8 1722.8 1488.2 1729.4 C1484.5 1736.0 1480.6 1741.9 1476.3 1749.2 C1472.0 1756.5 1467.0 1764.7 1462.4 1773.0 C1457.8 1781.3 1452.8 1790.2 1448.5 1798.8 C1444.2 1807.4 1440.6 1815.7 1436.6 1824.6 C1432.6 1833.5 1428.0 1843.5 1424.7 1852.4 C1421.4 1861.3 1418.7 1868.9 1416.7 1878.2 C1414.8 1887.4 1413.8 1899.7 1412.8 1907.9 C1411.8 1916.2 1411.2 1921.5 1410.8 1927.8 C1410.4 1934.1 1410.4 1945.6 1410.4 1945.6Z"/><path d="M1508.0 1668.8 C1508.0 1668.8 1514.3 1673.6 1516.0 1677.8 C1517.6 1681.9 1518.1 1687.7 1517.9 1693.7 C1517.8 1699.6 1516.6 1706.9 1515.0 1713.5 C1513.3 1720.1 1510.3 1727.1 1508.0 1733.3 C1505.7 1739.6 1501.1 1751.2 1501.1 1751.2 C1501.1 1751.2 1506.0 1752.8 1506.0 1752.8 C1506.0 1752.8 1501.4 1765.7 1498.1 1773.0 C1494.8 1780.4 1490.2 1789.6 1486.2 1796.8 C1482.2 1804.1 1477.8 1812.4 1474.3 1816.7 C1470.8 1820.9 1465.4 1822.2 1465.4 1822.2 C1465.4 1822.2 1470.7 1824.6 1470.7 1824.6 C1470.7 1824.6 1465.8 1837.8 1462.4 1844.4 C1459.0 1851.1 1454.3 1859.8 1450.5 1864.3 C1446.7 1868.8 1439.6 1871.2 1439.6 1871.2 C1439.6 1871.2 1445.5 1873.8 1445.5 1873.8 C1445.5 1873.8 1444.7 1885.7 1443.5 1892.1 C1442.4 1898.4 1440.7 1906.0 1438.6 1911.9 C1436.4 1917.9 1434.6 1922.3 1430.6 1927.8 C1426.7 1933.2 1414.8 1944.6 1414.8 1944.6 C1414.8 1944.6 1417.7 1933.9 1418.7 1927.8 C1419.7 1921.7 1419.7 1914.6 1420.7 1907.9 C1421.7 1901.3 1422.7 1895.4 1424.7 1888.1 C1426.7 1880.8 1429.3 1872.2 1432.6 1864.3 C1435.9 1856.3 1440.2 1848.4 1444.5 1840.5 C1448.8 1832.5 1453.8 1824.6 1458.4 1816.7 C1463.0 1808.7 1467.7 1800.8 1472.3 1792.9 C1476.9 1784.9 1482.2 1777.0 1486.2 1769.0 C1490.2 1761.1 1493.3 1753.2 1496.1 1745.2 C1498.9 1737.3 1501.4 1729.4 1503.1 1721.4 C1504.7 1713.5 1505.2 1706.4 1506.0 1697.6 C1506.9 1688.9 1508.0 1668.8 1508.0 1668.8Z"/><path d="M1350.5 1913.6 C1350.5 1913.6 1341.4 1917.0 1337.5 1920.4 C1333.7 1923.8 1330.4 1928.0 1327.3 1934.0 C1324.3 1940.1 1322.2 1947.3 1319.4 1956.7 C1316.6 1966.2 1313.2 1979.0 1310.3 1990.7 C1307.5 2002.5 1304.5 2014.9 1302.4 2027.0 C1300.3 2039.1 1299.1 2051.2 1297.8 2063.3 C1296.6 2075.4 1295.7 2089.1 1295.1 2099.6 C1294.6 2110.2 1294.4 2120.1 1294.4 2126.9 C1294.4 2133.7 1295.1 2140.5 1295.1 2140.5 C1295.1 2140.5 1298.7 2133.7 1301.3 2126.9 C1303.8 2120.1 1307.3 2108.7 1310.3 2099.6 C1313.4 2090.6 1316.0 2082.2 1319.4 2072.4 C1322.8 2062.6 1327.0 2051.2 1330.7 2040.7 C1334.5 2030.1 1338.3 2018.7 1342.1 2008.9 C1345.9 1999.1 1350.0 1989.6 1353.4 1981.7 C1356.8 1973.7 1360.4 1968.1 1362.5 1961.3 C1364.6 1954.4 1365.5 1946.9 1365.9 1940.8 C1366.3 1934.8 1366.1 1928.9 1364.8 1925.0 C1363.4 1921.0 1360.3 1918.9 1358.0 1917.0 C1355.6 1915.1 1350.5 1913.6 1350.5 1913.6Z"/><path d="M1404.5 1945.4 C1404.5 1945.4 1415.4 1947.3 1419.2 1949.9 C1423.0 1952.6 1425.6 1957.1 1427.2 1961.3 C1428.7 1965.4 1429.3 1969.2 1428.7 1974.9 C1428.2 1980.5 1426.1 1988.1 1423.8 1995.3 C1421.4 2002.5 1418.5 2009.3 1414.7 2018.0 C1410.9 2026.7 1406.0 2037.6 1401.1 2047.5 C1396.2 2057.3 1390.9 2066.7 1385.2 2077.0 C1379.5 2087.2 1373.1 2098.1 1367.0 2108.7 C1361.0 2119.3 1354.9 2130.3 1348.9 2140.5 C1342.8 2150.7 1335.8 2162.0 1330.7 2170.0 C1325.6 2177.9 1321.2 2184.6 1318.3 2188.1 C1315.3 2191.6 1313.0 2190.8 1313.0 2190.8 C1313.0 2190.8 1311.7 2179.9 1312.1 2172.2 C1312.6 2164.6 1314.2 2154.8 1316.0 2145.0 C1317.8 2135.2 1320.3 2123.8 1322.8 2113.2 C1325.3 2102.7 1327.9 2092.1 1330.7 2081.5 C1333.6 2070.9 1336.8 2060.3 1339.8 2049.7 C1342.8 2039.1 1345.9 2027.8 1348.9 2018.0 C1351.9 2008.1 1354.9 1999.1 1358.0 1990.7 C1361.0 1982.4 1363.6 1974.7 1367.0 1968.1 C1370.4 1961.4 1374.2 1955.2 1378.4 1951.0 C1382.5 1946.9 1387.6 1944.0 1392.0 1943.1 C1396.3 1942.2 1404.5 1945.4 1404.5 1945.4Z"/><path d="M1353.4 1915.9 C1361.7 1912.1 1404.9 1935.5 1412.4 1945.4 C1420.0 1955.2 1407.1 1971.1 1398.8 1974.9 C1390.5 1978.6 1370.1 1977.9 1362.5 1968.1 C1354.9 1958.2 1345.1 1919.7 1353.4 1915.9Z"/></g></g>
<path d="M1279.9 1702.0 C1279.9 1702.0 1281.8 1710.1 1284.1 1714.9 C1286.4 1719.7 1290.3 1725.3 1293.7 1730.8 C1297.0 1736.3 1300.9 1742.4 1304.2 1747.7 C1307.6 1753.0 1311.2 1758.7 1313.8 1762.5 C1316.3 1766.4 1319.6 1771.0 1319.6 1771.0 C1319.6 1771.0 1315.3 1770.2 1315.3 1770.2 C1315.3 1770.2 1316.3 1780.6 1316.9 1785.8 C1317.5 1791.1 1318.4 1796.4 1319.0 1801.7 C1319.7 1807.0 1320.5 1812.8 1320.6 1817.6 C1320.8 1822.3 1320.1 1830.3 1320.1 1830.3 C1320.1 1830.3 1313.8 1827.3 1313.8 1827.3 C1313.8 1827.3 1313.1 1834.2 1313.2 1838.7 C1313.4 1843.3 1314.0 1849.3 1314.8 1854.6 C1315.6 1859.9 1316.7 1865.2 1318.0 1870.5 C1319.3 1875.8 1320.6 1881.1 1322.8 1886.3 C1324.9 1891.6 1327.5 1897.2 1330.7 1902.2 C1333.9 1907.2 1341.8 1916.2 1341.8 1916.2 C1341.8 1916.2 1338.1 1902.8 1336.5 1896.9 C1334.9 1891.1 1333.2 1886.3 1332.3 1881.1 C1331.3 1875.8 1331.0 1870.5 1330.7 1865.2 C1330.3 1859.9 1330.2 1854.6 1330.2 1849.3 C1330.2 1844.0 1330.6 1838.7 1330.7 1833.4 C1330.8 1828.1 1331.0 1822.9 1330.9 1817.6 C1330.8 1812.3 1330.6 1807.0 1330.2 1801.7 C1329.7 1796.4 1329.0 1791.1 1328.0 1785.8 C1327.1 1780.5 1326.0 1775.2 1324.3 1769.9 C1322.7 1764.7 1320.5 1759.4 1318.0 1754.1 C1315.5 1748.8 1312.7 1743.5 1309.5 1738.2 C1306.3 1732.9 1302.5 1727.1 1298.9 1722.3 C1295.4 1717.6 1291.5 1713.0 1288.4 1709.6 C1285.2 1706.2 1279.9 1702.0 1279.9 1702.0Z" fill="#3C440F" stroke="#3C440F" stroke-width="1.6" stroke-linejoin="round"/>
<path d="M1283.4 1696.0 C1283.4 1696.0 1289.8 1694.0 1293.7 1694.8 C1297.5 1695.7 1302.1 1698.2 1306.3 1701.2 C1310.6 1704.2 1315.0 1708.2 1319.0 1712.8 C1323.1 1717.4 1327.3 1723.2 1330.7 1728.7 C1334.0 1734.1 1337.0 1740.5 1339.2 1745.6 C1341.3 1750.7 1342.4 1754.8 1343.4 1759.4 C1344.4 1763.9 1345.0 1772.9 1345.0 1772.9 C1345.0 1772.9 1354.0 1773.7 1354.0 1773.7 C1354.0 1773.7 1353.4 1781.7 1352.9 1785.8 C1352.4 1790.0 1351.9 1793.9 1350.8 1798.5 C1349.7 1803.1 1348.0 1808.7 1346.6 1813.3 C1345.1 1817.9 1343.7 1821.8 1342.3 1826.0 C1341.0 1830.3 1338.6 1838.9 1338.6 1838.9 C1338.6 1838.9 1337.3 1832.6 1337.0 1828.1 C1336.8 1823.7 1337.3 1817.6 1337.2 1812.3 C1337.2 1807.0 1336.9 1801.7 1336.5 1796.4 C1336.1 1791.1 1335.7 1785.8 1334.9 1780.5 C1334.1 1775.2 1333.2 1769.9 1331.7 1764.7 C1330.3 1759.4 1328.7 1754.1 1326.5 1748.8 C1324.2 1743.5 1321.2 1738.0 1318.0 1732.9 C1314.8 1727.8 1311.1 1722.7 1307.4 1718.1 C1303.7 1713.5 1299.8 1709.1 1295.8 1705.4 C1291.8 1701.7 1283.4 1696.0 1283.4 1696.0Z" fill="#3C440F" stroke="#3C440F" stroke-width="1.6" stroke-linejoin="round"/>
<path d="M1377.2 1704.9 C1375.7 1704.2 1374.2 1707.1 1373.0 1709.6 C1371.9 1712.2 1370.9 1716.3 1370.4 1720.2 C1369.8 1724.1 1369.7 1728.1 1369.8 1732.9 C1370.0 1737.7 1370.7 1743.5 1371.4 1748.8 C1372.1 1754.1 1373.4 1759.9 1374.1 1764.7 C1374.7 1769.4 1375.3 1777.4 1375.3 1777.4 C1375.3 1777.4 1364.8 1768.0 1364.8 1768.0 C1364.8 1768.0 1363.8 1775.8 1363.5 1780.5 C1363.2 1785.3 1363.4 1791.1 1363.0 1796.4 C1362.5 1801.7 1361.8 1807.0 1360.8 1812.3 C1359.9 1817.6 1358.2 1822.9 1357.1 1828.1 C1356.1 1833.4 1354.5 1843.8 1354.5 1843.8 C1354.5 1843.8 1344.7 1831.9 1344.7 1831.9 C1344.7 1831.9 1343.1 1839.3 1342.3 1844.0 C1341.6 1848.7 1340.7 1854.6 1340.2 1859.9 C1339.7 1865.2 1339.2 1870.5 1339.2 1875.8 C1339.1 1881.1 1339.0 1886.7 1339.7 1891.6 C1340.4 1896.6 1341.5 1901.1 1343.4 1905.4 C1345.2 1909.7 1350.8 1917.6 1350.8 1917.6 C1350.8 1917.6 1352.0 1907.4 1352.9 1902.2 C1353.8 1897.0 1354.7 1891.6 1356.1 1886.3 C1357.5 1881.1 1359.4 1875.8 1361.4 1870.5 C1363.3 1865.2 1365.4 1859.9 1367.7 1854.6 C1370.0 1849.3 1372.8 1844.0 1375.1 1838.7 C1377.4 1833.4 1379.5 1828.1 1381.5 1822.9 C1383.4 1817.6 1385.4 1812.3 1386.8 1807.0 C1388.2 1801.7 1389.2 1796.4 1389.9 1791.1 C1390.7 1785.8 1390.9 1780.5 1391.0 1775.2 C1391.1 1769.9 1390.8 1764.7 1390.5 1759.4 C1390.1 1754.1 1389.7 1748.8 1388.9 1743.5 C1388.1 1738.2 1386.9 1732.6 1385.7 1727.6 C1384.6 1722.7 1383.4 1717.7 1382.0 1713.9 C1380.6 1710.1 1378.7 1705.6 1377.2 1704.9Z" fill="#3C440F" stroke="#3C440F" stroke-width="1.6" stroke-linejoin="round"/>
<path d="M1384.7 1701.2 C1384.7 1701.2 1390.5 1702.2 1393.1 1704.3 C1395.8 1706.5 1398.4 1710.0 1400.5 1713.9 C1402.6 1717.7 1404.6 1722.7 1405.8 1727.6 C1407.1 1732.6 1407.6 1738.2 1407.9 1743.5 C1408.3 1748.8 1408.2 1754.4 1407.9 1759.4 C1407.7 1764.3 1406.7 1769.8 1406.3 1773.1 C1406.0 1776.5 1405.8 1779.5 1405.8 1779.5 C1405.8 1779.5 1412.4 1781.4 1412.4 1781.4 C1412.4 1781.4 1411.3 1791.3 1410.1 1796.4 C1408.8 1801.6 1406.9 1807.0 1404.8 1812.3 C1402.6 1817.6 1399.8 1823.2 1397.4 1828.1 C1394.9 1833.1 1392.2 1837.8 1389.9 1841.9 C1387.7 1846.0 1384.1 1853.0 1384.1 1853.0 C1384.1 1853.0 1391.0 1854.8 1391.0 1854.8 C1391.0 1854.8 1389.4 1863.6 1387.8 1868.4 C1386.2 1873.1 1384.0 1878.2 1381.5 1883.2 C1379.0 1888.1 1375.7 1893.8 1373.0 1898.0 C1370.4 1902.2 1367.9 1905.8 1365.6 1908.6 C1363.3 1911.3 1359.3 1914.4 1359.3 1914.4 C1359.3 1914.4 1361.0 1903.5 1362.4 1898.0 C1363.8 1892.4 1365.8 1886.5 1367.7 1881.1 C1369.7 1875.6 1371.8 1870.5 1374.1 1865.2 C1376.4 1859.9 1379.0 1854.6 1381.5 1849.3 C1384.0 1844.0 1386.8 1838.7 1388.9 1833.4 C1391.0 1828.1 1392.7 1822.9 1394.2 1817.6 C1395.7 1812.3 1397.0 1807.0 1397.9 1801.7 C1398.8 1796.4 1399.3 1791.1 1399.5 1785.8 C1399.6 1780.5 1399.3 1775.2 1398.9 1769.9 C1398.6 1764.7 1398.0 1759.4 1397.4 1754.1 C1396.7 1748.8 1396.1 1743.5 1395.2 1738.2 C1394.4 1732.9 1393.2 1726.9 1392.1 1722.3 C1390.9 1717.7 1389.6 1714.2 1388.4 1710.7 C1387.1 1707.2 1384.7 1701.2 1384.7 1701.2Z" fill="#3C440F" stroke="#3C440F" stroke-width="1.6" stroke-linejoin="round"/>
<path d="M1410.4 1945.6 C1410.4 1945.6 1401.9 1934.1 1398.9 1927.8 C1395.9 1921.5 1393.7 1914.6 1392.5 1907.9 C1391.4 1901.3 1391.2 1894.0 1391.9 1888.1 C1392.7 1882.1 1396.9 1872.2 1396.9 1872.2 C1396.9 1872.2 1404.4 1883.1 1404.4 1883.1 C1404.4 1883.1 1405.4 1866.4 1406.8 1858.3 C1408.2 1850.2 1410.5 1841.8 1412.8 1834.5 C1415.1 1827.2 1418.4 1820.3 1420.7 1814.7 C1423.0 1809.1 1426.7 1800.8 1426.7 1800.8 C1426.7 1800.8 1432.2 1814.7 1432.2 1814.7 C1432.2 1814.7 1435.5 1803.8 1438.6 1796.8 C1441.6 1789.9 1446.2 1781.0 1450.5 1773.0 C1454.8 1765.1 1460.1 1757.3 1464.4 1749.2 C1468.7 1741.1 1476.3 1724.4 1476.3 1724.4 C1476.3 1724.4 1479.2 1732.3 1479.2 1732.3 C1479.2 1732.3 1485.4 1719.9 1488.2 1713.5 C1491.0 1707.0 1493.7 1700.8 1496.1 1693.7 C1498.5 1686.5 1502.5 1670.8 1502.5 1670.8 C1502.5 1670.8 1505.8 1681.2 1505.0 1687.7 C1504.3 1694.1 1500.9 1702.6 1498.1 1709.5 C1495.3 1716.5 1491.8 1722.8 1488.2 1729.4 C1484.5 1736.0 1480.6 1741.9 1476.3 1749.2 C1472.0 1756.5 1467.0 1764.7 1462.4 1773.0 C1457.8 1781.3 1452.8 1790.2 1448.5 1798.8 C1444.2 1807.4 1440.6 1815.7 1436.6 1824.6 C1432.6 1833.5 1428.0 1843.5 1424.7 1852.4 C1421.4 1861.3 1418.7 1868.9 1416.7 1878.2 C1414.8 1887.4 1413.8 1899.7 1412.8 1907.9 C1411.8 1916.2 1411.2 1921.5 1410.8 1927.8 C1410.4 1934.1 1410.4 1945.6 1410.4 1945.6Z" fill="#3C440F" stroke="#3C440F" stroke-width="1.6" stroke-linejoin="round"/>
<path d="M1508.0 1668.8 C1508.0 1668.8 1514.3 1673.6 1516.0 1677.8 C1517.6 1681.9 1518.1 1687.7 1517.9 1693.7 C1517.8 1699.6 1516.6 1706.9 1515.0 1713.5 C1513.3 1720.1 1510.3 1727.1 1508.0 1733.3 C1505.7 1739.6 1501.1 1751.2 1501.1 1751.2 C1501.1 1751.2 1506.0 1752.8 1506.0 1752.8 C1506.0 1752.8 1501.4 1765.7 1498.1 1773.0 C1494.8 1780.4 1490.2 1789.6 1486.2 1796.8 C1482.2 1804.1 1477.8 1812.4 1474.3 1816.7 C1470.8 1820.9 1465.4 1822.2 1465.4 1822.2 C1465.4 1822.2 1470.7 1824.6 1470.7 1824.6 C1470.7 1824.6 1465.8 1837.8 1462.4 1844.4 C1459.0 1851.1 1454.3 1859.8 1450.5 1864.3 C1446.7 1868.8 1439.6 1871.2 1439.6 1871.2 C1439.6 1871.2 1445.5 1873.8 1445.5 1873.8 C1445.5 1873.8 1444.7 1885.7 1443.5 1892.1 C1442.4 1898.4 1440.7 1906.0 1438.6 1911.9 C1436.4 1917.9 1434.6 1922.3 1430.6 1927.8 C1426.7 1933.2 1414.8 1944.6 1414.8 1944.6 C1414.8 1944.6 1417.7 1933.9 1418.7 1927.8 C1419.7 1921.7 1419.7 1914.6 1420.7 1907.9 C1421.7 1901.3 1422.7 1895.4 1424.7 1888.1 C1426.7 1880.8 1429.3 1872.2 1432.6 1864.3 C1435.9 1856.3 1440.2 1848.4 1444.5 1840.5 C1448.8 1832.5 1453.8 1824.6 1458.4 1816.7 C1463.0 1808.7 1467.7 1800.8 1472.3 1792.9 C1476.9 1784.9 1482.2 1777.0 1486.2 1769.0 C1490.2 1761.1 1493.3 1753.2 1496.1 1745.2 C1498.9 1737.3 1501.4 1729.4 1503.1 1721.4 C1504.7 1713.5 1505.2 1706.4 1506.0 1697.6 C1506.9 1688.9 1508.0 1668.8 1508.0 1668.8Z" fill="#3C440F" stroke="#3C440F" stroke-width="1.6" stroke-linejoin="round"/>
<path d="M1350.5 1913.6 C1350.5 1913.6 1341.4 1917.0 1337.5 1920.4 C1333.7 1923.8 1330.4 1928.0 1327.3 1934.0 C1324.3 1940.1 1322.2 1947.3 1319.4 1956.7 C1316.6 1966.2 1313.2 1979.0 1310.3 1990.7 C1307.5 2002.5 1304.5 2014.9 1302.4 2027.0 C1300.3 2039.1 1299.1 2051.2 1297.8 2063.3 C1296.6 2075.4 1295.7 2089.1 1295.1 2099.6 C1294.6 2110.2 1294.4 2120.1 1294.4 2126.9 C1294.4 2133.7 1295.1 2140.5 1295.1 2140.5 C1295.1 2140.5 1298.7 2133.7 1301.3 2126.9 C1303.8 2120.1 1307.3 2108.7 1310.3 2099.6 C1313.4 2090.6 1316.0 2082.2 1319.4 2072.4 C1322.8 2062.6 1327.0 2051.2 1330.7 2040.7 C1334.5 2030.1 1338.3 2018.7 1342.1 2008.9 C1345.9 1999.1 1350.0 1989.6 1353.4 1981.7 C1356.8 1973.7 1360.4 1968.1 1362.5 1961.3 C1364.6 1954.4 1365.5 1946.9 1365.9 1940.8 C1366.3 1934.8 1366.1 1928.9 1364.8 1925.0 C1363.4 1921.0 1360.3 1918.9 1358.0 1917.0 C1355.6 1915.1 1350.5 1913.6 1350.5 1913.6Z" fill="#DA5268" />
<path d="M1404.5 1945.4 C1404.5 1945.4 1415.4 1947.3 1419.2 1949.9 C1423.0 1952.6 1425.6 1957.1 1427.2 1961.3 C1428.7 1965.4 1429.3 1969.2 1428.7 1974.9 C1428.2 1980.5 1426.1 1988.1 1423.8 1995.3 C1421.4 2002.5 1418.5 2009.3 1414.7 2018.0 C1410.9 2026.7 1406.0 2037.6 1401.1 2047.5 C1396.2 2057.3 1390.9 2066.7 1385.2 2077.0 C1379.5 2087.2 1373.1 2098.1 1367.0 2108.7 C1361.0 2119.3 1354.9 2130.3 1348.9 2140.5 C1342.8 2150.7 1335.8 2162.0 1330.7 2170.0 C1325.6 2177.9 1321.2 2184.6 1318.3 2188.1 C1315.3 2191.6 1313.0 2190.8 1313.0 2190.8 C1313.0 2190.8 1311.7 2179.9 1312.1 2172.2 C1312.6 2164.6 1314.2 2154.8 1316.0 2145.0 C1317.8 2135.2 1320.3 2123.8 1322.8 2113.2 C1325.3 2102.7 1327.9 2092.1 1330.7 2081.5 C1333.6 2070.9 1336.8 2060.3 1339.8 2049.7 C1342.8 2039.1 1345.9 2027.8 1348.9 2018.0 C1351.9 2008.1 1354.9 1999.1 1358.0 1990.7 C1361.0 1982.4 1363.6 1974.7 1367.0 1968.1 C1370.4 1961.4 1374.2 1955.2 1378.4 1951.0 C1382.5 1946.9 1387.6 1944.0 1392.0 1943.1 C1396.3 1942.2 1404.5 1945.4 1404.5 1945.4Z" fill="#DA5268" stroke="#FDF1ED" stroke-width="4.5" paint-order="stroke"/>
<ellipse cx="1344.4" cy="1942.0" rx="9.5" ry="2.7" transform="rotate(15 1344.4 1942.0)" fill="#FDF1ED"/>
<ellipse cx="1332.6" cy="1976.7" rx="9.1" ry="2.7" transform="rotate(15 1332.6 1976.7)" fill="#FDF1ED"/>
<ellipse cx="1320.5" cy="2008.9" rx="9.5" ry="2.9" transform="rotate(12 1320.5 2008.9)" fill="#FDF1ED"/>
<ellipse cx="1312.6" cy="2045.9" rx="5.7" ry="2.0" transform="rotate(15 1312.6 2045.9)" fill="#FDF1ED"/>
<ellipse cx="1305.3" cy="2080.4" rx="1.8" ry="1.4" transform="rotate(0 1305.3 2080.4)" fill="#FDF1ED"/>
<ellipse cx="1388.6" cy="1990.7" rx="23.8" ry="5.0" transform="rotate(30 1388.6 1990.7)" fill="#FDF1ED"/>
<ellipse cx="1363.6" cy="2035.4" rx="17.0" ry="3.9" transform="rotate(30 1363.6 2035.4)" fill="#FDF1ED"/>
<ellipse cx="1343.2" cy="2084.9" rx="5.7" ry="1.8" transform="rotate(20 1343.2 2084.9)" fill="#FDF1ED"/>
<ellipse cx="1329.2" cy="2130.9" rx="5.0" ry="1.8" transform="rotate(20 1329.2 2130.9)" fill="#FDF1ED"/>
<g filter="url(#stkP)"><path d="M1542.9 1954.0 C1537.9 1956.2 1537.8 1961.0 1532.6 1965.8 C1527.5 1970.6 1518.3 1978.3 1512.2 1982.8 C1506.2 1987.3 1501.3 1989.4 1496.4 1993.0 C1491.4 1996.6 1484.8 2000.6 1482.7 2004.4 C1480.7 2008.1 1486.1 2012.3 1483.9 2015.7 C1481.6 2019.1 1472.9 2019.9 1469.1 2024.8 C1465.3 2029.7 1463.1 2038.8 1461.2 2045.2 C1459.3 2051.6 1456.8 2058.8 1457.8 2063.3 C1458.7 2067.9 1465.9 2069.4 1466.9 2072.4 C1467.8 2075.4 1462.1 2078.1 1463.5 2081.5 C1464.8 2084.9 1475.7 2089.1 1474.8 2092.8 C1473.9 2096.6 1462.3 2098.9 1457.8 2104.2 C1453.2 2109.5 1450.4 2118.5 1447.6 2124.6 C1444.7 2130.6 1442.2 2134.8 1440.8 2140.5 C1439.4 2146.1 1439.8 2153.3 1439.2 2158.6 C1438.5 2163.9 1436.1 2167.7 1436.9 2172.2 C1437.7 2176.8 1442.0 2180.9 1444.2 2185.8 C1446.3 2190.8 1448.0 2195.7 1449.8 2201.7 C1451.7 2207.8 1453.6 2215.7 1455.5 2222.1 C1457.4 2228.6 1458.9 2235.0 1461.2 2240.3 C1463.5 2245.6 1464.8 2249.2 1469.1 2253.9 C1473.5 2258.6 1479.3 2265.4 1487.3 2268.6 C1495.2 2271.9 1508.8 2269.6 1516.8 2273.2 C1524.7 2276.8 1529.2 2285.9 1534.9 2290.2 C1540.6 2294.5 1544.7 2296.4 1550.8 2299.3 C1556.8 2302.1 1565.5 2305.5 1571.2 2307.2 C1576.9 2308.9 1575.8 2309.1 1584.8 2309.5 C1593.9 2309.9 1625.7 2309.5 1625.7 2309.5 C1625.7 2309.5 1625.7 1953.3 1625.7 1953.3 C1625.7 1953.3 1595.4 1954.6 1584.8 1954.4 C1574.2 1954.3 1569.1 1952.7 1562.1 1952.6 C1555.1 1952.6 1547.8 1951.8 1542.9 1954.0Z" fill="#FDF1ED" stroke="#FDF1ED" stroke-width="24" stroke-linejoin="round"/></g>
<g fill="#B3BCA0" stroke="#B3BCA0" stroke-width="2.0" stroke-linejoin="round"><path d="M1544.0 1954.5 L1563.4 1953.3 L1564.6 1967.8 L1562.2 1984.7 L1551.3 1978.7 L1535.6 1972.6 L1539.2 1964.1Z"/><path d="M1568.2 1954.5 L1593.7 1958.1 L1593.7 1983.5 L1568.8 1971.4Z"/><path d="M1568.2 1976.3 L1593.7 1987.1 L1593.7 1994.4 L1575.5 1998.0 L1565.2 1987.8Z"/><path d="M1527.1 1982.3 L1533.1 1978.7 L1551.3 1987.1 L1567.0 1994.4 L1569.5 2000.5 L1557.3 2007.7 L1539.2 2012.6 L1533.1 2004.1 L1525.9 1989.6Z"/><path d="M1569.5 2008.9 L1593.7 2001.7 L1593.7 2019.8 L1574.3 2013.8Z"/><path d="M1523.5 1998.0 L1530.7 2008.9 L1534.4 2018.6 L1533.1 2027.1 L1522.2 2034.4 L1513.8 2030.7 L1505.3 2024.7 L1512.6 2016.2 L1519.8 2006.5Z"/><path d="M1501.7 1984.7 L1513.8 1981.1 L1511.4 1994.4 L1504.1 2007.7 L1502.9 1994.4Z"/><path d="M1483.5 2002.9 L1496.8 1990.8 L1499.2 2001.7 L1496.8 2008.9Z"/><path d="M1542.8 2024.7 L1561.0 2015.0 L1571.9 2022.2 L1575.5 2039.2 L1571.9 2056.1 L1561.0 2063.4 L1541.6 2069.5 L1544.0 2051.3 L1542.8 2036.8Z"/><path d="M1593.7 2061.0 L1569.5 2065.8 L1563.4 2079.1 L1562.2 2093.7 L1569.5 2115.4 L1575.5 2130.0 L1593.7 2131.2Z"/><path d="M1580.3 2022.2 L1593.7 2023.5 L1593.7 2057.3 L1581.6 2045.2 L1582.8 2033.1Z"/><path d="M1538.0 2030.7 L1539.2 2045.2 L1536.8 2069.5 L1524.7 2085.2 L1516.2 2100.9 L1512.6 2105.8 L1506.5 2093.7 L1502.9 2079.1 L1502.9 2062.2 L1511.4 2048.9 L1524.7 2038.0Z"/><path d="M1561.0 2069.5 L1558.6 2081.6 L1557.3 2096.1 L1563.4 2115.4 L1571.9 2132.4 L1545.2 2137.2 L1534.4 2132.4 L1527.1 2120.3 L1518.6 2110.6 L1524.7 2094.9 L1535.6 2080.3 L1545.2 2073.1Z"/><path d="M1492.0 2030.7 L1499.2 2028.3 L1512.6 2036.8 L1489.6 2047.7 L1489.0 2039.2Z"/><path d="M1513.8 2044.0 L1508.9 2052.5 L1500.5 2065.8 L1496.8 2071.9 L1493.2 2063.4 L1491.4 2053.7Z"/><path d="M1473.8 2023.5 L1493.2 2014.4 L1479.9 2027.1 L1476.3 2042.8 L1465.4 2041.6 L1469.0 2030.7Z"/><path d="M1462.9 2046.5 L1471.4 2050.1 L1467.8 2057.3 L1456.9 2064.6 L1459.3 2053.7Z"/><path d="M1472.6 2071.3 L1493.2 2077.9 L1467.8 2087.6 L1459.3 2080.3Z"/><path d="M1483.5 2092.4 L1479.9 2105.8 L1473.8 2121.5 L1447.2 2126.3 L1458.1 2111.8 L1470.2 2099.7Z"/><path d="M1494.4 2096.1 L1500.5 2110.6 L1496.8 2123.9 L1494.4 2142.1 L1495.6 2160.0 L1496.8 2164.2 L1499.2 2176.3 L1485.9 2187.2 L1484.7 2160.0 L1483.5 2142.1 L1487.1 2117.9Z"/><path d="M1505.3 2121.5 L1515.0 2116.7 L1524.7 2126.3 L1531.9 2137.2 L1513.8 2145.7 L1500.5 2160.0 L1496.8 2148.1 L1499.2 2132.4Z"/><path d="M1444.8 2131.8 L1461.7 2131.8 L1458.1 2146.9 L1456.9 2140.0 L1455.7 2152.1 L1453.3 2161.8 L1446.0 2159.4 L1437.5 2148.5 L1439.9 2142.1Z"/><path d="M1473.8 2126.3 L1472.6 2142.1 L1473.8 2159.4 L1459.3 2158.8 L1459.3 2147.3 L1462.9 2143.3 L1467.8 2133.6Z"/><path d="M1531.9 2142.1 L1532.5 2144.9 L1501.7 2160.6 L1505.3 2154.2 L1516.2 2149.3Z"/><path d="M1544.0 2146.9 L1569.5 2140.9 L1576.7 2164.2 L1580.3 2181.2 L1557.3 2176.3 L1550.1 2158.2Z"/><path d="M1575.5 2139.7 L1593.7 2136.0 L1593.7 2166.3 L1579.1 2161.8Z"/><path d="M1531.9 2148.5 L1531.9 2161.8 L1535.6 2175.1 L1500.5 2169.0 L1515.0 2158.2Z"/><path d="M1452.0 2166.0 L1475.0 2164.8 L1472.6 2175.1 L1467.8 2179.3 L1460.5 2173.9Z"/><path d="M1435.7 2170.3 L1448.4 2181.2 L1464.1 2200.5 L1449.6 2195.7 L1439.9 2186.0Z"/><path d="M1495.6 2174.5 L1508.9 2177.5 L1533.1 2179.9 L1541.6 2179.9 L1558.6 2188.4 L1550.1 2202.9 L1521.0 2198.1 L1494.4 2193.3 L1488.4 2183.6Z"/><path d="M1562.2 2192.0 L1593.7 2190.2 L1593.7 2206.0 L1554.9 2204.1Z"/><path d="M1508.9 2202.9 L1533.1 2206.6 L1540.4 2209.0 L1545.2 2222.3 L1531.9 2218.7 L1518.6 2212.6Z"/><path d="M1545.2 2211.4 L1569.5 2211.4 L1593.7 2216.3 L1593.7 2239.2 L1574.3 2239.2 L1562.2 2230.8 L1551.3 2218.7Z"/><path d="M1494.4 2198.1 L1500.5 2199.3 L1513.8 2215.0 L1530.7 2223.5 L1553.7 2228.4 L1564.6 2240.5 L1539.2 2235.6 L1521.0 2228.4 L1506.5 2218.7Z"/><path d="M1449.0 2200.5 L1460.5 2205.4 L1455.1 2221.1Z"/><path d="M1467.8 2207.2 L1472.6 2217.5 L1476.9 2232.0 L1467.8 2234.4 L1461.7 2228.4 L1460.5 2218.7Z"/><path d="M1490.8 2219.3 L1495.6 2219.9 L1508.9 2233.2 L1504.1 2239.2 L1499.2 2239.9 L1493.2 2232.0Z"/><path d="M1456.9 2230.2 L1468.4 2236.2 L1462.9 2245.3Z"/><path d="M1477.5 2236.2 L1484.7 2248.9 L1489.6 2268.3 L1477.5 2261.0 L1466.6 2250.1 L1470.2 2242.9Z"/><path d="M1513.8 2236.8 L1519.8 2250.1 L1509.5 2247.7Z"/><path d="M1522.2 2240.5 L1539.2 2247.7 L1557.3 2253.8 L1540.4 2255.0 L1524.7 2250.1Z"/><path d="M1576.7 2250.1 L1593.7 2246.5 L1593.7 2253.2Z"/><path d="M1491.4 2255.0 L1504.1 2261.0 L1514.4 2264.1 L1494.4 2267.7Z"/><path d="M1518.6 2265.3 L1527.1 2265.9 L1530.7 2270.7 L1536.8 2281.6 L1534.4 2286.5 L1524.7 2273.1 L1516.2 2271.3Z"/><path d="M1551.9 2259.8 L1571.9 2258.6 L1565.8 2270.7Z"/><path d="M1573.1 2262.2 L1593.7 2264.7 L1593.7 2284.0 L1569.5 2273.1Z"/><path d="M1548.9 2275.6 L1565.8 2291.3 L1551.3 2294.9 L1546.5 2296.1 L1538.6 2291.3 L1541.6 2284.0Z"/><path d="M1551.3 2298.6 L1567.6 2296.1 L1568.2 2307.6Z"/><path d="M1572.5 2297.3 L1593.7 2301.6 L1593.7 2314.3 L1573.1 2309.5Z"/></g>
<g transform="translate(630,2030) scale(0.20504)" stroke-linecap="round" stroke-linejoin="round">
<path d="M390.0 80.0 C423.3 75.0 465.0 69.2 500.0 70.0 C535.0 70.8 570.0 75.0 600.0 85.0 C630.0 95.0 658.3 110.8 680.0 130.0 C701.7 149.2 718.3 175.0 730.0 200.0 C741.7 225.0 745.7 253.3 750.0 280.0 C754.3 306.7 756.3 331.7 756.0 360.0 C755.7 388.3 750.3 416.7 748.0 450.0 C745.7 483.3 744.2 521.7 742.0 560.0 C739.8 598.3 738.7 640.0 735.0 680.0 C731.3 720.0 729.2 762.5 720.0 800.0 C710.8 837.5 680.0 905.0 680.0 905.0 C680.0 905.0 623.3 867.5 600.0 850.0 C576.7 832.5 561.7 815.0 540.0 800.0 C518.3 785.0 493.3 793.3 470.0 760.0 C446.7 726.7 428.3 643.3 400.0 600.0 C371.7 556.7 333.3 493.3 300.0 500.0 C266.7 506.7 217.0 592.5 200.0 640.0 C183.0 687.5 198.0 785.0 198.0 785.0 C198.0 785.0 148.0 774.2 130.0 760.0 C112.0 745.8 100.0 726.7 90.0 700.0 C80.0 673.3 72.5 633.3 70.0 600.0 C67.5 566.7 70.0 538.3 75.0 500.0 C80.0 461.7 87.5 411.7 100.0 370.0 C112.5 328.3 130.0 286.7 150.0 250.0 C170.0 213.3 195.0 175.0 220.0 150.0 C245.0 125.0 271.7 111.7 300.0 100.0 C328.3 88.3 356.7 85.0 390.0 80.0Z" fill="#3C440F"/>
<path d="M198 600 L195 918 Q197 935 230 942 Q310 958 400 940 Q430 935 431 918 L432 700 Z" fill="#FEF0EC" stroke="#3C440F" stroke-width="9"/>
<circle cx="590" cy="695" r="50" fill="none" stroke="#DC5468" stroke-width="15"/>
<path d="M430.0 155.0 C456.7 154.2 493.3 160.8 520.0 170.0 C546.7 179.2 571.7 191.7 590.0 210.0 C608.3 228.3 620.8 251.7 630.0 280.0 C639.2 308.3 643.3 346.7 645.0 380.0 C646.7 413.3 643.3 450.0 640.0 480.0 C636.7 510.0 631.7 533.3 625.0 560.0 C618.3 586.7 610.8 616.7 600.0 640.0 C589.2 663.3 576.7 681.7 560.0 700.0 C543.3 718.3 521.7 737.5 500.0 750.0 C478.3 762.5 453.3 771.7 430.0 775.0 C406.7 778.3 381.7 775.8 360.0 770.0 C338.3 764.2 318.3 753.3 300.0 740.0 C281.7 726.7 264.2 708.3 250.0 690.0 C235.8 671.7 223.3 651.7 215.0 630.0 C206.7 608.3 201.7 585.0 200.0 560.0 C198.3 535.0 200.8 508.3 205.0 480.0 C209.2 451.7 216.7 420.0 225.0 390.0 C233.3 360.0 242.5 326.7 255.0 300.0 C267.5 273.3 282.5 250.8 300.0 230.0 C317.5 209.2 338.3 187.5 360.0 175.0 C381.7 162.5 403.3 155.8 430.0 155.0Z" fill="#FEF0EC"/>
<path d="M196 528 Q222 598 199 668" fill="none" stroke="#DC5468" stroke-width="13" stroke-linecap="butt"/>
<path d="M203.0 600.0 C206.7 610.0 213.8 639.7 225.0 660.0 C236.2 680.3 250.8 704.0 270.0 722.0 C289.2 740.0 313.3 758.7 340.0 768.0 C366.7 777.3 403.3 780.7 430.0 778.0 C456.7 775.3 488.3 756.3 500.0 752.0" fill="none" stroke="#3C440F" stroke-width="9"/>
<path d="M333.0 320.0 C340.8 316.2 362.5 294.5 380.0 297.0 C397.5 299.5 428.3 328.7 438.0 335.0" fill="none" stroke="#3C440F" stroke-width="15"/>
<path d="M557.0 377.0 C562.8 375.2 579.3 361.3 592.0 366.0 C604.7 370.7 626.2 398.5 633.0 405.0" fill="none" stroke="#3C440F" stroke-width="13"/>
<path d="M310 360 L470 405 L445 470 L300 430 Z M505 425 L635 455 L625 525 L495 490 Z M468 425 L505 440 M228 380 L308 378" fill="none" stroke="#3C440F" stroke-width="9"/>
<ellipse cx="385" cy="410" rx="21" ry="30" fill="#3C440F" transform="rotate(8 385 410)"/>
<ellipse cx="566" cy="470" rx="20" ry="28" fill="#3C440F" transform="rotate(8 566 470)"/>
<path d="M352 345 L362 372 M395 350 L398 372 M600 420 L607 440 M625 440 L612 455" fill="none" stroke="#3C440F" stroke-width="5"/>
<path d="M490.0 500.0 C489.3 510.0 486.0 560.0 486.0 560.0 C486.0 560.0 463.0 568.5 452.0 566.0 C441.0 563.5 425.3 548.5 420.0 545.0" fill="none" stroke="#3C440F" stroke-width="9"/>
<path d="M310.0 545.0 C315.0 555.8 323.3 593.3 340.0 610.0 C356.7 626.7 398.3 639.2 410.0 645.0" fill="none" stroke="#3C440F" stroke-width="10"/>
<path d="M232.0 195.0 C243.3 183.3 274.5 142.2 300.0 125.0 C325.5 107.8 370.8 97.5 385.0 92.0" fill="none" stroke="#FEF0EC" stroke-width="4"/>
<path d="M995 880 L995 930 Q996 945 1030 952 Q1110 962 1200 946 Q1234 940 1236 925 L1237 780 Z" fill="#FEF0EC" stroke="#3C440F" stroke-width="9"/>
<path d="M795.0 560.0 C786.3 598.3 793.8 646.7 798.0 680.0 C802.2 713.3 808.0 735.0 820.0 760.0 C832.0 785.0 848.3 808.3 870.0 830.0 C891.7 851.7 926.7 876.3 950.0 890.0 C973.3 903.7 988.3 910.8 1010.0 912.0 C1031.7 913.2 1056.7 905.7 1080.0 897.0 C1103.3 888.3 1126.7 876.2 1150.0 860.0 C1173.3 843.8 1200.0 823.3 1220.0 800.0 C1240.0 776.7 1258.8 746.7 1270.0 720.0 C1281.2 693.3 1285.0 666.7 1287.0 640.0 C1289.0 613.3 1296.5 600.0 1282.0 560.0 C1267.5 520.0 1247.0 438.3 1200.0 400.0 C1153.0 361.7 1058.3 321.7 1000.0 330.0 C941.7 338.3 884.2 411.7 850.0 450.0 C815.8 488.3 803.7 521.7 795.0 560.0Z" fill="#FEF0EC" stroke="#3C440F" stroke-width="9"/>
<path d="M995.0 905.0 C995.0 905.0 1024.2 913.2 1040.0 912.0 C1055.8 910.8 1070.0 907.0 1090.0 898.0 C1110.0 889.0 1137.5 874.3 1160.0 858.0 C1182.5 841.7 1225.0 800.0 1225.0 800.0 C1225.0 800.0 1199.2 850.8 1180.0 870.0 C1160.8 889.2 1133.3 904.7 1110.0 915.0 C1086.7 925.3 1059.2 933.7 1040.0 932.0 C1020.8 930.3 995.0 905.0 995.0 905.0Z" fill="#3C440F"/>
<path d="M745.0 560.0 C736.7 542.5 715.8 506.7 715.0 480.0 C714.2 453.3 727.5 428.3 740.0 400.0 C752.5 371.7 771.7 336.7 790.0 310.0 C808.3 283.3 826.7 258.3 850.0 240.0 C873.3 221.7 903.3 207.5 930.0 200.0 C956.7 192.5 992.5 200.3 1010.0 195.0 C1027.5 189.7 1021.7 175.0 1035.0 168.0 C1048.3 161.0 1069.2 152.7 1090.0 153.0 C1110.8 153.3 1139.2 168.0 1160.0 170.0 C1180.8 172.0 1200.5 168.7 1215.0 165.0 C1229.5 161.3 1247.0 148.0 1247.0 148.0 C1247.0 148.0 1245.8 173.8 1238.0 185.0 C1230.2 196.2 1191.3 202.5 1200.0 215.0 C1208.7 227.5 1266.7 240.8 1290.0 260.0 C1313.3 279.2 1326.7 306.7 1340.0 330.0 C1353.3 353.3 1360.0 380.0 1370.0 400.0 C1380.0 420.0 1387.2 437.3 1400.0 450.0 C1412.8 462.7 1447.0 476.0 1447.0 476.0 C1447.0 476.0 1415.8 493.0 1400.0 492.0 C1384.2 491.0 1357.7 462.0 1352.0 470.0 C1346.3 478.0 1364.7 518.3 1366.0 540.0 C1367.3 561.7 1365.2 580.0 1360.0 600.0 C1354.8 620.0 1346.3 644.7 1335.0 660.0 C1323.7 675.3 1292.0 692.0 1292.0 692.0 C1292.0 692.0 1295.7 642.0 1292.0 620.0 C1288.3 598.0 1288.7 581.7 1270.0 560.0 C1251.3 538.3 1201.7 506.7 1180.0 490.0 C1158.3 473.3 1151.7 475.0 1140.0 460.0 C1128.3 445.0 1120.0 418.3 1110.0 400.0 C1100.0 381.7 1093.0 363.7 1080.0 350.0 C1067.0 336.3 1047.0 321.3 1032.0 318.0 C1017.0 314.7 1002.0 319.7 990.0 330.0 C978.0 340.3 968.3 358.3 960.0 380.0 C951.7 401.7 950.0 441.3 940.0 460.0 C930.0 478.7 911.7 484.5 900.0 492.0 C888.3 499.5 883.3 493.7 870.0 505.0 C856.7 516.3 833.0 543.8 820.0 560.0 C807.0 576.2 792.0 602.0 792.0 602.0 C792.0 602.0 772.8 592.0 765.0 585.0 C757.2 578.0 753.3 577.5 745.0 560.0Z" fill="#3C440F" stroke="#FEF0EC" stroke-width="6" paint-order="stroke"/>
<path d="M868 445 L910 388 M880 478 L922 400" fill="none" stroke="#FEF0EC" stroke-width="4"/>
<path d="M935 490 L975 496 M1095 496 L1150 490" fill="none" stroke="#3C440F" stroke-width="9"/>
<path d="M985.0 602.0 C993.0 600.0 1016.8 590.0 1033.0 590.0 C1049.2 590.0 1073.8 600.0 1082.0 602.0" fill="none" stroke="#3C440F" stroke-width="6"/>
<path d="M795 605 L830 608 M1235 592 L1268 596" fill="none" stroke="#3C440F" stroke-width="6"/>
<circle cx="912" cy="615" r="71" fill="none" stroke="#DC5468" stroke-width="29"/>
<circle cx="1156" cy="612" r="71" fill="none" stroke="#DC5468" stroke-width="29"/>
<path d="M868.0 610.0 C875.3 605.7 896.7 585.7 912.0 584.0 C927.3 582.3 952.0 597.3 960.0 600.0" fill="none" stroke="#3C440F" stroke-width="10"/>
<path d="M1108.0 606.0 C1115.3 601.7 1136.3 581.0 1152.0 580.0 C1167.7 579.0 1193.7 596.7 1202.0 600.0" fill="none" stroke="#3C440F" stroke-width="10"/>
<path d="M1000.0 663.0 C1001.3 668.8 1000.5 692.8 1008.0 698.0 C1015.5 703.2 1038.8 694.7 1045.0 694.0" fill="none" stroke="#3C440F" stroke-width="9"/>
<path d="M1028.0 770.0 C1038.3 769.3 1071.3 775.0 1090.0 766.0 C1108.7 757.0 1131.7 724.3 1140.0 716.0" fill="none" stroke="#3C440F" stroke-width="10"/>
</g>
<path id="arc" d="M608.0 2139.0 A172.5 172.5 0 0 1 953.0 2139.0" fill="none"/>
<text font-family="'Liberation Sans', sans-serif" font-weight="bold" font-size="46.5" fill="#3C440F" stroke="#3C440F" stroke-width="2" stroke-linejoin="round"><textPath href="#arc" startOffset="1" textLength="539.9" lengthAdjust="spacingAndGlyphs">LA FABRIQUE D'AUTONOMIE DE</textPath></text>
</svg>
<h1 style="margin:0;font-size:0;line-height:0">
<span class="t" style="left:118.1px;top:183.0px;font-size:114.6px;font-weight:bold;color:#E96166;transform:scaleX(0.7618);-webkit-text-stroke:5px #E96166;stroke-linejoin:round;letter-spacing:7px">POURQUOI</span>
<span class="t" style="left:662.1px;top:183.0px;font-size:114.6px;font-weight:bold;color:#E96166;transform:scaleX(0.7016);-webkit-text-stroke:5px #E96166;stroke-linejoin:round;letter-spacing:7px">FAIRE</span>
<span class="t" style="left:952.8px;top:183.0px;font-size:114.6px;font-weight:bold;color:#E96166;transform:scaleX(0.6995);-webkit-text-stroke:5px #E96166;stroke-linejoin:round;letter-spacing:7px">APPEL</span>
<span class="t" style="left:117.6px;top:322.5px;font-size:114.6px;font-weight:bold;color:#E96166;transform:scaleX(0.7686);-webkit-text-stroke:5px #E96166;stroke-linejoin:round;letter-spacing:7px">À</span>
<span class="t" style="left:217.0px;top:322.5px;font-size:114.6px;font-weight:bold;color:#E96166;transform:scaleX(0.7628);-webkit-text-stroke:5px #E96166;stroke-linejoin:round;letter-spacing:7px">VOUS</span>
<span class="t" style="left:512.3px;top:322.5px;font-size:114.6px;font-weight:bold;color:#E96166;transform:scaleX(0.8357);-webkit-text-stroke:5px #E96166;stroke-linejoin:round;letter-spacing:7px">?</span>
</h1>
<p class="t" style="left:116.8px;top:549.1px;font-size:48px;font-weight:normal;color:#3C440F;transform:scaleX(1.2082);-webkit-text-stroke:0.5px #3C440F">Chaque contribution</p>
<p class="t" style="left:118.0px;top:607.7px;font-size:48px;font-weight:normal;color:#3C440F;transform:scaleX(1.1986);-webkit-text-stroke:0.5px #3C440F">permettra de finaliser</p>
<p class="t" style="left:117.2px;top:666.3px;font-size:48px;font-weight:normal;color:#3C440F;transform:scaleX(1.1273);-webkit-text-stroke:0.5px #3C440F">les <b>illustrations</b> et la</p>
<p class="t" style="left:117.0px;top:725.0px;font-size:48px;font-weight:normal;color:#3C440F;transform:scaleX(1.1456);-webkit-text-stroke:0.5px #3C440F"><b>mise en page des</b></p>
<p class="t" style="left:117.0px;top:783.6px;font-size:48px;font-weight:normal;color:#3C440F;transform:scaleX(1.1514);-webkit-text-stroke:0.5px #3C440F"><b>recettes</b>, de <b>filmer les</b></p>
<p class="t" style="left:118.0px;top:842.2px;font-size:48px;font-weight:normal;color:#3C440F;transform:scaleX(1.1414);-webkit-text-stroke:0.5px #3C440F"><b>gestes techniques</b></p>
<p class="t" style="left:118.0px;top:900.8px;font-size:48px;font-weight:normal;color:#3C440F;transform:scaleX(1.1624);-webkit-text-stroke:0.5px #3C440F">incrustées au livre</p>
<p class="t" style="left:118.0px;top:959.5px;font-size:48px;font-weight:normal;color:#3C440F;transform:scaleX(1.1182);-webkit-text-stroke:0.5px #3C440F">grâce aux QR-Codes,</p>
<p class="t" style="left:118.0px;top:1018.1px;font-size:48px;font-weight:normal;color:#3C440F;transform:scaleX(1.1321);-webkit-text-stroke:0.5px #3C440F">d’assurer l’<b>impression</b></p>
<p class="t" style="left:118.0px;top:1076.7px;font-size:48px;font-weight:normal;color:#3C440F;transform:scaleX(1.2087);-webkit-text-stroke:0.5px #3C440F">et l’acheminement</p>
<p class="t" style="left:116.0px;top:1135.4px;font-size:48px;font-weight:normal;color:#3C440F;transform:scaleX(1.1498);-webkit-text-stroke:0.5px #3C440F">jusqu’à celles et ceux</p>
<p class="t" style="left:118.0px;top:1194.0px;font-size:48px;font-weight:normal;color:#3C440F;transform:scaleX(1.1829);-webkit-text-stroke:0.5px #3C440F">qui en ont besoin.</p>
<div class="t" style="left:1198.9px;top:531.9px;font-size:28.5px;font-weight:normal;color:#3C440F;transform:scaleX(1.2482);-webkit-text-stroke:0.3px #3C440F">Expédition</div>
<div class="t" style="left:1255.0px;top:566.9px;font-size:28.5px;font-weight:bold;color:#3C440F;transform:scaleX(1.0793);-webkit-text-stroke:0.9px #3C440F">5 %</div>
<div class="t" style="left:824.1px;top:560.4px;font-size:28.5px;font-weight:normal;color:#3C440F;transform:scaleX(1.2173);-webkit-text-stroke:0.3px #3C440F">Impression du</div>
<div class="t" style="left:831.0px;top:595.9px;font-size:28.5px;font-weight:normal;color:#3C440F;transform:scaleX(1.2103);-webkit-text-stroke:0.3px #3C440F">livre et reliure</div>
<div class="t" style="left:897.4px;top:630.5px;font-size:28.5px;font-weight:bold;color:#3C440F;transform:scaleX(1.0931);-webkit-text-stroke:0.9px #3C440F">25 %</div>
<div class="t" style="left:773.2px;top:1035.2px;font-size:28.5px;font-weight:normal;color:#3C440F;transform:scaleX(1.1388);-webkit-text-stroke:0.3px #3C440F">Prises de vues,</div>
<div class="t" style="left:767.0px;top:1070.4px;font-size:28.5px;font-weight:normal;color:#3C440F;transform:scaleX(1.2346);-webkit-text-stroke:0.3px #3C440F">montage vidéo</div>
<div class="t" style="left:772.0px;top:1106.4px;font-size:28.5px;font-weight:normal;color:#3C440F;transform:scaleX(1.1886);-webkit-text-stroke:0.3px #3C440F">et création des</div>
<div class="t" style="left:807.0px;top:1141.5px;font-size:28.5px;font-weight:normal;color:#3C440F;transform:scaleX(1.1293);-webkit-text-stroke:0.3px #3C440F">QR-Codes</div>
<div class="t" style="left:845.0px;top:1175.7px;font-size:28.5px;font-weight:bold;color:#3C440F;transform:scaleX(1.1392);-webkit-text-stroke:0.9px #3C440F">20 %</div>
<div class="t" style="left:1141.1px;top:1144.4px;font-size:28.5px;font-weight:normal;color:#3C440F;transform:scaleX(1.2212);-webkit-text-stroke:0.3px #3C440F">Illustrations et mise</div>
<div class="t" style="left:1133.0px;top:1181.2px;font-size:28.5px;font-weight:normal;color:#3C440F;transform:scaleX(1.1819);-webkit-text-stroke:0.3px #3C440F">en page des recettes</div>
<div class="t" style="left:1252.4px;top:1214.9px;font-size:28.5px;font-weight:bold;color:#3C440F;transform:scaleX(1.1333);-webkit-text-stroke:0.9px #3C440F">50 %</div>
<div class="t" style="left:270.8px;top:1551.0px;font-size:52px;font-weight:bold;color:#FEF0EC;transform:scaleX(1.1462);-webkit-text-stroke:1.3px #FEF0EC">En participant, vous donnez vie à un</div>
<div class="t" style="left:186.8px;top:1614.7px;font-size:52px;font-weight:bold;color:#FEF0EC;transform:scaleX(1.1586);-webkit-text-stroke:1.3px #FEF0EC">projet utile et inclusif ! Merci d’être acteur</div>
<div class="t" style="left:449.0px;top:1677.5px;font-size:52px;font-weight:bold;color:#FEF0EC;transform:scaleX(1.1803);-webkit-text-stroke:1.3px #FEF0EC">de cette belle aventure.</div>
<div class="t" style="left:571.7px;top:2251.2px;font-size:109px;font-weight:bold;color:#DC5468;transform:scaleX(0.6980);-webkit-text-stroke:4px #DC5468;stroke-linejoin:round;letter-spacing:9px">KARIMARI</div>

</div>
</body></html>
